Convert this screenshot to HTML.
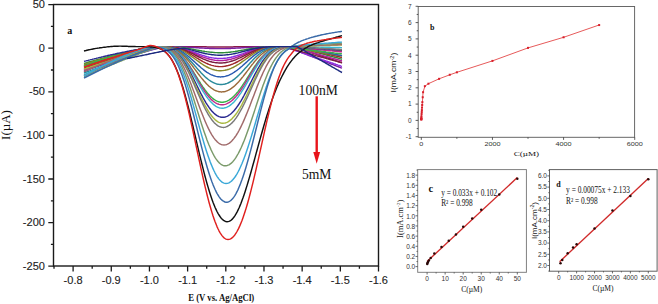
<!DOCTYPE html>
<html><head><meta charset="utf-8"><style>
html,body{margin:0;padding:0;background:#fff;width:658px;height:304px;overflow:hidden;}
svg{display:block;font-family:"Liberation Sans",sans-serif;}
</style></head><body>
<svg width="658" height="304" viewBox="0 0 658 304">
<rect width="658" height="304" fill="#fff"/>
<g fill="none" stroke-width="1.45" stroke-linejoin="round">
<path d="M84.0,66.0 L85.0,65.7 L86.0,65.4 L87.0,65.1 L88.0,64.8 L89.0,64.5 L90.0,64.2 L91.0,63.8 L92.0,63.5 L93.0,63.2 L94.0,62.9 L95.0,62.6 L96.0,62.3 L97.0,62.1 L98.0,61.8 L99.0,61.5 L100.0,61.2 L101.0,60.9 L102.0,60.6 L103.0,60.3 L104.0,60.0 L105.0,59.7 L106.0,59.4 L107.0,59.2 L108.0,58.9 L109.0,58.6 L110.0,58.3 L111.0,58.1 L112.0,57.8 L113.0,57.5 L114.0,57.2 L115.0,57.0 L116.0,56.7 L117.0,56.4 L118.0,56.2 L119.0,55.9 L120.0,55.6 L121.0,55.4 L122.0,55.1 L123.0,54.9 L124.0,54.6 L125.0,54.4 L126.0,54.1 L127.0,53.9 L128.0,53.6 L129.0,53.4 L130.0,53.1 L131.0,52.9 L132.0,52.6 L133.0,52.4 L134.0,52.2 L135.0,51.9 L136.0,51.7 L137.0,51.5 L138.0,51.2 L139.0,51.0 L140.0,50.8 L141.0,50.6 L142.0,50.4 L143.0,50.2 L144.0,50.0 L145.0,49.7 L146.0,49.5 L147.0,49.3 L148.0,49.1 L149.0,49.0 L150.0,48.8 L151.0,48.6 L152.0,48.4 L153.0,48.2 L154.0,48.0 L155.0,47.9 L156.0,47.7 L157.0,47.6 L158.0,47.4 L159.0,47.3 L160.0,47.1 L161.0,47.0 L162.0,46.9 L163.0,46.8 L164.0,46.7 L165.0,46.6 L166.0,46.6 L167.0,46.6 L168.0,46.6 L169.0,46.6 L170.0,46.6 L171.0,46.6 L172.0,46.6 L173.0,46.6 L174.0,46.6 L175.0,46.6 L176.0,46.6 L177.0,46.6 L178.0,46.6 L179.0,46.6 L180.0,46.6 L181.0,46.6 L182.0,46.6 L183.0,46.7 L184.0,46.7 L185.0,46.7 L186.0,46.7 L187.0,46.7 L188.0,46.7 L189.0,46.7 L190.0,46.7 L191.0,46.7 L192.0,46.7 L193.0,46.7 L194.0,46.7 L195.0,46.7 L196.0,46.8 L197.0,46.8 L198.0,46.8 L199.0,46.8 L200.0,46.8 L201.0,46.8 L202.0,46.8 L203.0,46.8 L204.0,46.8 L205.0,46.8 L206.0,46.8 L207.0,46.9 L208.0,46.9 L209.0,46.9 L210.0,46.9 L211.0,46.9 L212.0,46.9 L213.0,46.9 L214.0,46.9 L215.0,46.9 L216.0,46.9 L217.0,46.9 L218.0,46.9 L219.0,46.9 L220.0,46.9 L221.0,46.9 L222.0,46.9 L223.0,46.9 L224.0,46.9 L225.0,46.9 L226.0,46.9 L227.0,46.9 L228.0,46.9 L229.0,46.9 L230.0,46.9 L231.0,46.9 L232.0,46.9 L233.0,46.9 L234.0,46.8 L235.0,46.8 L236.0,46.8 L237.0,46.8 L238.0,46.8 L239.0,46.8 L240.0,46.8 L241.0,46.8 L242.0,46.8 L243.0,46.8 L244.0,46.8 L245.0,46.7 L246.0,46.7 L247.0,46.7 L248.0,46.7 L249.0,46.7 L250.0,46.7 L251.0,46.7 L252.0,46.7 L253.0,46.7 L254.0,46.7 L255.0,46.7 L256.0,46.7 L257.0,46.7 L258.0,46.6 L259.0,46.6 L260.0,46.6 L261.0,46.6 L262.0,46.6 L263.0,46.6 L264.0,46.6 L265.0,46.6 L266.0,46.6 L267.0,46.6 L268.0,46.6 L269.0,46.6 L270.0,46.6 L271.0,46.6 L272.0,46.6 L273.0,46.6 L274.0,46.6 L275.0,46.6 L276.0,46.6 L277.0,46.6 L278.0,46.6 L279.0,46.6 L280.0,46.6 L281.0,46.6 L282.0,46.6 L283.0,46.6 L284.0,46.6 L285.0,46.6 L286.0,46.6 L287.0,46.6 L288.0,46.6 L289.0,46.6 L290.0,46.6 L291.0,46.6 L292.0,46.6 L293.0,46.6 L294.0,46.9 L295.0,47.3 L296.0,47.6 L297.0,47.9 L298.0,48.2 L299.0,48.6 L300.0,48.9 L301.0,49.2 L302.0,49.6 L303.0,49.9 L304.0,50.2 L305.0,50.6 L306.0,50.9 L307.0,51.2 L308.0,51.5 L309.0,51.9 L310.0,52.2 L311.0,52.5 L312.0,52.9 L313.0,53.2 L314.0,53.5 L315.0,53.8 L316.0,54.2 L317.0,54.5 L318.0,54.8 L319.0,55.2 L320.0,55.5 L321.0,55.8 L322.0,56.2 L323.0,56.5 L324.0,56.8 L325.0,57.1 L326.0,57.5 L327.0,57.8 L328.0,58.1 L329.0,58.5 L330.0,58.8 L331.0,59.1 L332.0,59.4 L333.0,59.8 L334.0,60.1 L335.0,60.4 L336.0,60.8 L337.0,61.1 L338.0,61.4 L339.0,61.7 L340.0,62.1 L341.0,62.4 L342.0,62.7" stroke="#8b1a4a"/>
<path d="M84.0,69.0 L85.0,68.7 L86.0,68.4 L87.0,68.0 L88.0,67.7 L89.0,67.4 L90.0,67.1 L91.0,66.8 L92.0,66.5 L93.0,66.1 L94.0,65.8 L95.0,65.5 L96.0,65.2 L97.0,64.9 L98.0,64.6 L99.0,64.3 L100.0,63.9 L101.0,63.6 L102.0,63.3 L103.0,63.0 L104.0,62.7 L105.0,62.4 L106.0,62.1 L107.0,61.7 L108.0,61.4 L109.0,61.1 L110.0,60.8 L111.0,60.5 L112.0,60.2 L113.0,59.9 L114.0,59.6 L115.0,59.3 L116.0,59.0 L117.0,58.6 L118.0,58.3 L119.0,58.0 L120.0,57.7 L121.0,57.4 L122.0,57.1 L123.0,56.8 L124.0,56.5 L125.0,56.2 L126.0,55.9 L127.0,55.6 L128.0,55.3 L129.0,55.0 L130.0,54.7 L131.0,54.4 L132.0,54.1 L133.0,53.8 L134.0,53.5 L135.0,53.2 L136.0,52.9 L137.0,52.6 L138.0,52.3 L139.0,52.0 L140.0,51.7 L141.0,51.4 L142.0,51.1 L143.0,50.8 L144.0,50.5 L145.0,50.2 L146.0,49.9 L147.0,49.6 L148.0,49.3 L149.0,49.0 L150.0,48.8 L151.0,48.5 L152.0,48.2 L153.0,47.9 L154.0,47.6 L155.0,47.4 L156.0,47.1 L157.0,46.8 L158.0,46.6 L159.0,46.6 L160.0,46.6 L161.0,46.6 L162.0,46.6 L163.0,46.6 L164.0,46.6 L165.0,46.6 L166.0,46.6 L167.0,46.6 L168.0,46.6 L169.0,46.6 L170.0,46.6 L171.0,46.6 L172.0,46.7 L173.0,46.7 L174.0,46.7 L175.0,46.7 L176.0,46.7 L177.0,46.7 L178.0,46.8 L179.0,46.8 L180.0,46.8 L181.0,46.9 L182.0,46.9 L183.0,46.9 L184.0,47.0 L185.0,47.0 L186.0,47.1 L187.0,47.1 L188.0,47.2 L189.0,47.2 L190.0,47.3 L191.0,47.4 L192.0,47.4 L193.0,47.5 L194.0,47.5 L195.0,47.6 L196.0,47.7 L197.0,47.7 L198.0,47.8 L199.0,47.9 L200.0,47.9 L201.0,48.0 L202.0,48.0 L203.0,48.1 L204.0,48.1 L205.0,48.2 L206.0,48.2 L207.0,48.3 L208.0,48.3 L209.0,48.4 L210.0,48.4 L211.0,48.4 L212.0,48.5 L213.0,48.5 L214.0,48.5 L215.0,48.6 L216.0,48.6 L217.0,48.6 L218.0,48.6 L219.0,48.6 L220.0,48.6 L221.0,48.6 L222.0,48.6 L223.0,48.6 L224.0,48.6 L225.0,48.6 L226.0,48.5 L227.0,48.5 L228.0,48.5 L229.0,48.5 L230.0,48.4 L231.0,48.4 L232.0,48.3 L233.0,48.3 L234.0,48.2 L235.0,48.2 L236.0,48.1 L237.0,48.1 L238.0,48.0 L239.0,48.0 L240.0,47.9 L241.0,47.9 L242.0,47.8 L243.0,47.7 L244.0,47.7 L245.0,47.6 L246.0,47.5 L247.0,47.5 L248.0,47.4 L249.0,47.4 L250.0,47.3 L251.0,47.2 L252.0,47.2 L253.0,47.1 L254.0,47.1 L255.0,47.0 L256.0,47.0 L257.0,46.9 L258.0,46.9 L259.0,46.9 L260.0,46.8 L261.0,46.8 L262.0,46.8 L263.0,46.7 L264.0,46.7 L265.0,46.7 L266.0,46.7 L267.0,46.7 L268.0,46.7 L269.0,46.6 L270.0,46.6 L271.0,46.6 L272.0,46.6 L273.0,46.6 L274.0,46.6 L275.0,46.6 L276.0,46.6 L277.0,46.6 L278.0,46.6 L279.0,46.6 L280.0,46.6 L281.0,46.6 L282.0,46.6 L283.0,46.6 L284.0,46.6 L285.0,46.6 L286.0,46.6 L287.0,47.0 L288.0,47.4 L289.0,47.8 L290.0,48.1 L291.0,48.5 L292.0,48.9 L293.0,49.3 L294.0,49.7 L295.0,50.1 L296.0,50.5 L297.0,50.8 L298.0,51.2 L299.0,51.6 L300.0,52.0 L301.0,52.4 L302.0,52.8 L303.0,53.2 L304.0,53.5 L305.0,53.9 L306.0,54.3 L307.0,54.7 L308.0,55.1 L309.0,55.5 L310.0,55.9 L311.0,56.2 L312.0,56.6 L313.0,57.0 L314.0,57.4 L315.0,57.8 L316.0,58.2 L317.0,58.6 L318.0,58.9 L319.0,59.3 L320.0,59.7 L321.0,60.1 L322.0,60.5 L323.0,60.9 L324.0,61.3 L325.0,61.6 L326.0,62.0 L327.0,62.4 L328.0,62.8 L329.0,63.2 L330.0,63.6 L331.0,64.0 L332.0,64.3 L333.0,64.7 L334.0,65.1 L335.0,65.5 L336.0,65.9 L337.0,66.3 L338.0,66.6 L339.0,67.0 L340.0,67.4 L341.0,67.8 L342.0,68.2" stroke="#7a1fa2"/>
<path d="M84.0,63.5 L85.0,63.2 L86.0,62.9 L87.0,62.6 L88.0,62.3 L89.0,62.0 L90.0,61.7 L91.0,61.5 L92.0,61.2 L93.0,60.9 L94.0,60.6 L95.0,60.3 L96.0,60.1 L97.0,59.8 L98.0,59.5 L99.0,59.2 L100.0,59.0 L101.0,58.7 L102.0,58.4 L103.0,58.1 L104.0,57.9 L105.0,57.6 L106.0,57.4 L107.0,57.1 L108.0,56.8 L109.0,56.6 L110.0,56.3 L111.0,56.1 L112.0,55.8 L113.0,55.6 L114.0,55.3 L115.0,55.1 L116.0,54.8 L117.0,54.6 L118.0,54.4 L119.0,54.1 L120.0,53.9 L121.0,53.7 L122.0,53.4 L123.0,53.2 L124.0,53.0 L125.0,52.8 L126.0,52.5 L127.0,52.3 L128.0,52.1 L129.0,51.9 L130.0,51.7 L131.0,51.5 L132.0,51.3 L133.0,51.1 L134.0,50.9 L135.0,50.7 L136.0,50.5 L137.0,50.3 L138.0,50.1 L139.0,49.9 L140.0,49.7 L141.0,49.5 L142.0,49.3 L143.0,49.2 L144.0,49.0 L145.0,48.8 L146.0,48.7 L147.0,48.5 L148.0,48.4 L149.0,48.2 L150.0,48.0 L151.0,47.9 L152.0,47.8 L153.0,47.6 L154.0,47.5 L155.0,47.4 L156.0,47.3 L157.0,47.1 L158.0,47.0 L159.0,46.9 L160.0,46.8 L161.0,46.8 L162.0,46.7 L163.0,46.6 L164.0,46.6 L165.0,46.6 L166.0,46.6 L167.0,46.7 L168.0,46.7 L169.0,46.7 L170.0,46.7 L171.0,46.8 L172.0,46.8 L173.0,46.8 L174.0,46.9 L175.0,46.9 L176.0,47.0 L177.0,47.1 L178.0,47.1 L179.0,47.2 L180.0,47.3 L181.0,47.4 L182.0,47.5 L183.0,47.7 L184.0,47.8 L185.0,47.9 L186.0,48.1 L187.0,48.2 L188.0,48.4 L189.0,48.6 L190.0,48.7 L191.0,48.9 L192.0,49.1 L193.0,49.3 L194.0,49.5 L195.0,49.7 L196.0,49.9 L197.0,50.1 L198.0,50.2 L199.0,50.4 L200.0,50.6 L201.0,50.8 L202.0,51.0 L203.0,51.1 L204.0,51.3 L205.0,51.5 L206.0,51.6 L207.0,51.8 L208.0,51.9 L209.0,52.0 L210.0,52.1 L211.0,52.2 L212.0,52.3 L213.0,52.4 L214.0,52.5 L215.0,52.6 L216.0,52.6 L217.0,52.6 L218.0,52.7 L219.0,52.7 L220.0,52.7 L221.0,52.7 L222.0,52.7 L223.0,52.7 L224.0,52.6 L225.0,52.6 L226.0,52.5 L227.0,52.4 L228.0,52.4 L229.0,52.3 L230.0,52.2 L231.0,52.0 L232.0,51.9 L233.0,51.8 L234.0,51.6 L235.0,51.5 L236.0,51.3 L237.0,51.2 L238.0,51.0 L239.0,50.8 L240.0,50.7 L241.0,50.5 L242.0,50.3 L243.0,50.1 L244.0,49.9 L245.0,49.7 L246.0,49.5 L247.0,49.3 L248.0,49.2 L249.0,49.0 L250.0,48.8 L251.0,48.6 L252.0,48.4 L253.0,48.3 L254.0,48.1 L255.0,48.0 L256.0,47.8 L257.0,47.7 L258.0,47.6 L259.0,47.5 L260.0,47.3 L261.0,47.3 L262.0,47.2 L263.0,47.1 L264.0,47.0 L265.0,46.9 L266.0,46.9 L267.0,46.8 L268.0,46.8 L269.0,46.8 L270.0,46.7 L271.0,46.7 L272.0,46.7 L273.0,46.7 L274.0,46.7 L275.0,46.6 L276.0,46.6 L277.0,46.6 L278.0,46.6 L279.0,46.6 L280.0,46.6 L281.0,46.6 L282.0,46.6 L283.0,46.6 L284.0,46.6 L285.0,46.6 L286.0,46.6 L287.0,46.6 L288.0,46.6 L289.0,46.6 L290.0,46.6 L291.0,46.6 L292.0,46.6 L293.0,46.6 L294.0,46.6 L295.0,46.6 L296.0,46.9 L297.0,47.1 L298.0,47.4 L299.0,47.7 L300.0,47.9 L301.0,48.2 L302.0,48.5 L303.0,48.7 L304.0,49.0 L305.0,49.3 L306.0,49.5 L307.0,49.8 L308.0,50.1 L309.0,50.3 L310.0,50.6 L311.0,50.9 L312.0,51.2 L313.0,51.4 L314.0,51.7 L315.0,52.0 L316.0,52.2 L317.0,52.5 L318.0,52.8 L319.0,53.0 L320.0,53.3 L321.0,53.6 L322.0,53.8 L323.0,54.1 L324.0,54.4 L325.0,54.6 L326.0,54.9 L327.0,55.2 L328.0,55.4 L329.0,55.7 L330.0,56.0 L331.0,56.2 L332.0,56.5 L333.0,56.8 L334.0,57.0 L335.0,57.3 L336.0,57.6 L337.0,57.8 L338.0,58.1 L339.0,58.4 L340.0,58.7 L341.0,58.9 L342.0,59.2" stroke="#2e8b3a"/>
<path d="M84.0,70.0 L85.0,69.7 L86.0,69.4 L87.0,69.1 L88.0,68.7 L89.0,68.4 L90.0,68.1 L91.0,67.8 L92.0,67.5 L93.0,67.2 L94.0,66.9 L95.0,66.6 L96.0,66.2 L97.0,65.9 L98.0,65.6 L99.0,65.3 L100.0,65.0 L101.0,64.7 L102.0,64.4 L103.0,64.1 L104.0,63.8 L105.0,63.5 L106.0,63.2 L107.0,62.9 L108.0,62.6 L109.0,62.3 L110.0,61.9 L111.0,61.6 L112.0,61.3 L113.0,61.0 L114.0,60.7 L115.0,60.4 L116.0,60.1 L117.0,59.8 L118.0,59.5 L119.0,59.2 L120.0,58.9 L121.0,58.6 L122.0,58.3 L123.0,58.1 L124.0,57.8 L125.0,57.5 L126.0,57.2 L127.0,56.9 L128.0,56.6 L129.0,56.3 L130.0,56.0 L131.0,55.7 L132.0,55.4 L133.0,55.1 L134.0,54.8 L135.0,54.6 L136.0,54.3 L137.0,54.0 L138.0,53.7 L139.0,53.4 L140.0,53.1 L141.0,52.9 L142.0,52.6 L143.0,52.3 L144.0,52.0 L145.0,51.8 L146.0,51.5 L147.0,51.2 L148.0,50.9 L149.0,50.7 L150.0,50.4 L151.0,50.1 L152.0,49.9 L153.0,49.6 L154.0,49.3 L155.0,49.1 L156.0,48.8 L157.0,48.6 L158.0,48.3 L159.0,48.1 L160.0,47.9 L161.0,47.6 L162.0,47.4 L163.0,47.2 L164.0,47.0 L165.0,46.8 L166.0,46.7 L167.0,46.7 L168.0,46.8 L169.0,46.8 L170.0,46.9 L171.0,46.9 L172.0,47.0 L173.0,47.1 L174.0,47.2 L175.0,47.3 L176.0,47.4 L177.0,47.5 L178.0,47.7 L179.0,47.9 L180.0,48.0 L181.0,48.3 L182.0,48.5 L183.0,48.7 L184.0,49.0 L185.0,49.2 L186.0,49.5 L187.0,49.8 L188.0,50.2 L189.0,50.5 L190.0,50.8 L191.0,51.2 L192.0,51.5 L193.0,51.9 L194.0,52.3 L195.0,52.6 L196.0,53.0 L197.0,53.4 L198.0,53.7 L199.0,54.1 L200.0,54.5 L201.0,54.8 L202.0,55.2 L203.0,55.5 L204.0,55.8 L205.0,56.1 L206.0,56.4 L207.0,56.7 L208.0,56.9 L209.0,57.2 L210.0,57.4 L211.0,57.6 L212.0,57.8 L213.0,57.9 L214.0,58.1 L215.0,58.2 L216.0,58.3 L217.0,58.4 L218.0,58.4 L219.0,58.5 L220.0,58.5 L221.0,58.5 L222.0,58.5 L223.0,58.4 L224.0,58.3 L225.0,58.3 L226.0,58.1 L227.0,58.0 L228.0,57.8 L229.0,57.7 L230.0,57.5 L231.0,57.3 L232.0,57.0 L233.0,56.8 L234.0,56.5 L235.0,56.2 L236.0,55.9 L237.0,55.6 L238.0,55.3 L239.0,55.0 L240.0,54.6 L241.0,54.3 L242.0,53.9 L243.0,53.6 L244.0,53.2 L245.0,52.8 L246.0,52.4 L247.0,52.1 L248.0,51.7 L249.0,51.4 L250.0,51.0 L251.0,50.7 L252.0,50.3 L253.0,50.0 L254.0,49.7 L255.0,49.4 L256.0,49.1 L257.0,48.9 L258.0,48.6 L259.0,48.4 L260.0,48.2 L261.0,48.0 L262.0,47.8 L263.0,47.6 L264.0,47.5 L265.0,47.3 L266.0,47.2 L267.0,47.1 L268.0,47.0 L269.0,47.0 L270.0,46.9 L271.0,46.8 L272.0,46.8 L273.0,46.8 L274.0,46.7 L275.0,46.7 L276.0,46.7 L277.0,46.7 L278.0,46.6 L279.0,46.6 L280.0,46.6 L281.0,46.6 L282.0,46.6 L283.0,46.6 L284.0,46.6 L285.0,46.9 L286.0,47.3 L287.0,47.6 L288.0,48.0 L289.0,48.3 L290.0,48.7 L291.0,49.0 L292.0,49.3 L293.0,49.7 L294.0,50.0 L295.0,50.4 L296.0,50.7 L297.0,51.0 L298.0,51.4 L299.0,51.7 L300.0,52.1 L301.0,52.4 L302.0,52.8 L303.0,53.1 L304.0,53.4 L305.0,53.8 L306.0,54.1 L307.0,54.5 L308.0,54.8 L309.0,55.1 L310.0,55.5 L311.0,55.8 L312.0,56.2 L313.0,56.5 L314.0,56.9 L315.0,57.2 L316.0,57.5 L317.0,57.9 L318.0,58.2 L319.0,58.6 L320.0,58.9 L321.0,59.2 L322.0,59.6 L323.0,59.9 L324.0,60.3 L325.0,60.6 L326.0,61.0 L327.0,61.3 L328.0,61.6 L329.0,62.0 L330.0,62.3 L331.0,62.7 L332.0,63.0 L333.0,63.3 L334.0,63.7 L335.0,64.0 L336.0,64.4 L337.0,64.7 L338.0,65.1 L339.0,65.4 L340.0,65.7 L341.0,66.1 L342.0,66.4" stroke="#8a2be2"/>
<path d="M84.0,72.0 L85.0,71.5 L86.0,71.1 L87.0,70.6 L88.0,70.1 L89.0,69.7 L90.0,69.2 L91.0,68.7 L92.0,68.3 L93.0,67.8 L94.0,67.4 L95.0,66.9 L96.0,66.5 L97.0,66.1 L98.0,65.6 L99.0,65.2 L100.0,64.7 L101.0,64.3 L102.0,63.9 L103.0,63.5 L104.0,63.0 L105.0,62.6 L106.0,62.2 L107.0,61.8 L108.0,61.4 L109.0,61.0 L110.0,60.6 L111.0,60.2 L112.0,59.8 L113.0,59.4 L114.0,59.0 L115.0,58.6 L116.0,58.2 L117.0,57.8 L118.0,57.4 L119.0,57.0 L120.0,56.7 L121.0,56.3 L122.0,55.9 L123.0,55.6 L124.0,55.2 L125.0,54.9 L126.0,54.5 L127.0,54.2 L128.0,53.8 L129.0,53.5 L130.0,53.1 L131.0,52.8 L132.0,52.5 L133.0,52.2 L134.0,51.8 L135.0,51.5 L136.0,51.2 L137.0,50.9 L138.0,50.6 L139.0,50.3 L140.0,50.1 L141.0,49.8 L142.0,49.5 L143.0,49.2 L144.0,49.0 L145.0,48.7 L146.0,48.5 L147.0,48.2 L148.0,48.0 L149.0,47.8 L150.0,47.6 L151.0,47.4 L152.0,47.2 L153.0,47.0 L154.0,46.9 L155.0,46.7 L156.0,46.6 L157.0,46.6 L158.0,46.6 L159.0,46.6 L160.0,46.6 L161.0,46.6 L162.0,46.6 L163.0,46.7 L164.0,46.7 L165.0,46.7 L166.0,46.7 L167.0,46.8 L168.0,46.8 L169.0,46.9 L170.0,46.9 L171.0,47.0 L172.0,47.1 L173.0,47.2 L174.0,47.3 L175.0,47.4 L176.0,47.6 L177.0,47.7 L178.0,47.9 L179.0,48.1 L180.0,48.3 L181.0,48.6 L182.0,48.8 L183.0,49.1 L184.0,49.4 L185.0,49.7 L186.0,50.1 L187.0,50.4 L188.0,50.8 L189.0,51.2 L190.0,51.6 L191.0,52.0 L192.0,52.4 L193.0,52.8 L194.0,53.3 L195.0,53.7 L196.0,54.1 L197.0,54.6 L198.0,55.0 L199.0,55.4 L200.0,55.9 L201.0,56.3 L202.0,56.7 L203.0,57.1 L204.0,57.4 L205.0,57.8 L206.0,58.1 L207.0,58.4 L208.0,58.7 L209.0,59.0 L210.0,59.3 L211.0,59.5 L212.0,59.7 L213.0,59.9 L214.0,60.1 L215.0,60.3 L216.0,60.4 L217.0,60.5 L218.0,60.5 L219.0,60.6 L220.0,60.6 L221.0,60.6 L222.0,60.6 L223.0,60.5 L224.0,60.4 L225.0,60.3 L226.0,60.2 L227.0,60.0 L228.0,59.8 L229.0,59.6 L230.0,59.4 L231.0,59.2 L232.0,58.9 L233.0,58.6 L234.0,58.3 L235.0,58.0 L236.0,57.6 L237.0,57.3 L238.0,56.9 L239.0,56.5 L240.0,56.1 L241.0,55.7 L242.0,55.3 L243.0,54.8 L244.0,54.4 L245.0,54.0 L246.0,53.5 L247.0,53.1 L248.0,52.7 L249.0,52.3 L250.0,51.8 L251.0,51.4 L252.0,51.0 L253.0,50.7 L254.0,50.3 L255.0,50.0 L256.0,49.6 L257.0,49.3 L258.0,49.0 L259.0,48.7 L260.0,48.5 L261.0,48.3 L262.0,48.0 L263.0,47.8 L264.0,47.7 L265.0,47.5 L266.0,47.4 L267.0,47.2 L268.0,47.1 L269.0,47.0 L270.0,47.0 L271.0,46.9 L272.0,46.8 L273.0,46.8 L274.0,46.8 L275.0,46.7 L276.0,46.7 L277.0,46.7 L278.0,46.7 L279.0,46.6 L280.0,46.6 L281.0,46.6 L282.0,46.6 L283.0,46.6 L284.0,46.6 L285.0,46.6 L286.0,46.6 L287.0,46.6 L288.0,46.6 L289.0,46.6 L290.0,46.6 L291.0,46.6 L292.0,46.9 L293.0,47.2 L294.0,47.4 L295.0,47.7 L296.0,48.0 L297.0,48.3 L298.0,48.6 L299.0,48.9 L300.0,49.1 L301.0,49.4 L302.0,49.7 L303.0,50.0 L304.0,50.3 L305.0,50.5 L306.0,50.8 L307.0,51.1 L308.0,51.4 L309.0,51.7 L310.0,52.0 L311.0,52.2 L312.0,52.5 L313.0,52.8 L314.0,53.1 L315.0,53.4 L316.0,53.6 L317.0,53.9 L318.0,54.2 L319.0,54.5 L320.0,54.8 L321.0,55.1 L322.0,55.3 L323.0,55.6 L324.0,55.9 L325.0,56.2 L326.0,56.5 L327.0,56.7 L328.0,57.0 L329.0,57.3 L330.0,57.6 L331.0,57.9 L332.0,58.2 L333.0,58.4 L334.0,58.7 L335.0,59.0 L336.0,59.3 L337.0,59.6 L338.0,59.8 L339.0,60.1 L340.0,60.4 L341.0,60.7 L342.0,61.0" stroke="#b0209a"/>
<path d="M84.0,65.0 L85.0,64.8 L86.0,64.5 L87.0,64.3 L88.0,64.1 L89.0,63.8 L90.0,63.6 L91.0,63.3 L92.0,63.1 L93.0,62.9 L94.0,62.6 L95.0,62.4 L96.0,62.2 L97.0,61.9 L98.0,61.7 L99.0,61.4 L100.0,61.2 L101.0,61.0 L102.0,60.7 L103.0,60.5 L104.0,60.3 L105.0,60.0 L106.0,59.8 L107.0,59.5 L108.0,59.3 L109.0,59.1 L110.0,58.8 L111.0,58.6 L112.0,58.4 L113.0,58.1 L114.0,57.9 L115.0,57.6 L116.0,57.4 L117.0,57.2 L118.0,56.9 L119.0,56.7 L120.0,56.5 L121.0,56.2 L122.0,56.0 L123.0,55.7 L124.0,55.5 L125.0,55.3 L126.0,55.0 L127.0,54.8 L128.0,54.6 L129.0,54.3 L130.0,54.1 L131.0,53.8 L132.0,53.6 L133.0,53.4 L134.0,53.1 L135.0,52.9 L136.0,52.7 L137.0,52.4 L138.0,52.2 L139.0,51.9 L140.0,51.7 L141.0,51.5 L142.0,51.2 L143.0,51.0 L144.0,50.8 L145.0,50.5 L146.0,50.3 L147.0,50.0 L148.0,49.8 L149.0,49.6 L150.0,49.3 L151.0,49.1 L152.0,48.9 L153.0,48.6 L154.0,48.4 L155.0,48.1 L156.0,47.9 L157.0,47.7 L158.0,47.4 L159.0,47.2 L160.0,47.0 L161.0,46.8 L162.0,46.7 L163.0,46.7 L164.0,46.7 L165.0,46.7 L166.0,46.8 L167.0,46.8 L168.0,46.8 L169.0,46.9 L170.0,47.0 L171.0,47.1 L172.0,47.2 L173.0,47.3 L174.0,47.4 L175.0,47.6 L176.0,47.7 L177.0,47.9 L178.0,48.1 L179.0,48.4 L180.0,48.6 L181.0,48.9 L182.0,49.2 L183.0,49.6 L184.0,49.9 L185.0,50.3 L186.0,50.7 L187.0,51.1 L188.0,51.6 L189.0,52.0 L190.0,52.5 L191.0,53.0 L192.0,53.4 L193.0,53.9 L194.0,54.4 L195.0,55.0 L196.0,55.5 L197.0,56.0 L198.0,56.5 L199.0,57.0 L200.0,57.5 L201.0,57.9 L202.0,58.4 L203.0,58.9 L204.0,59.3 L205.0,59.7 L206.0,60.1 L207.0,60.5 L208.0,60.8 L209.0,61.2 L210.0,61.5 L211.0,61.7 L212.0,62.0 L213.0,62.2 L214.0,62.4 L215.0,62.6 L216.0,62.7 L217.0,62.8 L218.0,62.9 L219.0,63.0 L220.0,63.0 L221.0,63.0 L222.0,63.0 L223.0,62.9 L224.0,62.8 L225.0,62.7 L226.0,62.5 L227.0,62.3 L228.0,62.1 L229.0,61.9 L230.0,61.6 L231.0,61.3 L232.0,61.0 L233.0,60.7 L234.0,60.3 L235.0,60.0 L236.0,59.6 L237.0,59.1 L238.0,58.7 L239.0,58.2 L240.0,57.8 L241.0,57.3 L242.0,56.8 L243.0,56.3 L244.0,55.8 L245.0,55.3 L246.0,54.8 L247.0,54.3 L248.0,53.8 L249.0,53.3 L250.0,52.8 L251.0,52.4 L252.0,51.9 L253.0,51.4 L254.0,51.0 L255.0,50.6 L256.0,50.2 L257.0,49.8 L258.0,49.5 L259.0,49.2 L260.0,48.9 L261.0,48.6 L262.0,48.3 L263.0,48.1 L264.0,47.9 L265.0,47.7 L266.0,47.5 L267.0,47.4 L268.0,47.3 L269.0,47.1 L270.0,47.0 L271.0,47.0 L272.0,46.9 L273.0,46.8 L274.0,46.8 L275.0,46.7 L276.0,46.7 L277.0,46.7 L278.0,46.7 L279.0,46.7 L280.0,46.6 L281.0,46.6 L282.0,46.6 L283.0,46.6 L284.0,46.9 L285.0,47.2 L286.0,47.4 L287.0,47.7 L288.0,48.0 L289.0,48.2 L290.0,48.5 L291.0,48.8 L292.0,49.1 L293.0,49.3 L294.0,49.6 L295.0,49.9 L296.0,50.2 L297.0,50.4 L298.0,50.7 L299.0,51.0 L300.0,51.3 L301.0,51.5 L302.0,51.8 L303.0,52.1 L304.0,52.4 L305.0,52.6 L306.0,52.9 L307.0,53.2 L308.0,53.5 L309.0,53.7 L310.0,54.0 L311.0,54.3 L312.0,54.6 L313.0,54.8 L314.0,55.1 L315.0,55.4 L316.0,55.7 L317.0,55.9 L318.0,56.2 L319.0,56.5 L320.0,56.7 L321.0,57.0 L322.0,57.3 L323.0,57.6 L324.0,57.8 L325.0,58.1 L326.0,58.4 L327.0,58.7 L328.0,58.9 L329.0,59.2 L330.0,59.5 L331.0,59.8 L332.0,60.0 L333.0,60.3 L334.0,60.6 L335.0,60.9 L336.0,61.1 L337.0,61.4 L338.0,61.7 L339.0,62.0 L340.0,62.2 L341.0,62.5 L342.0,62.8" stroke="#7a2040"/>
<path d="M84.0,68.0 L85.0,67.7 L86.0,67.3 L87.0,67.0 L88.0,66.7 L89.0,66.3 L90.0,66.0 L91.0,65.7 L92.0,65.4 L93.0,65.0 L94.0,64.7 L95.0,64.4 L96.0,64.1 L97.0,63.8 L98.0,63.4 L99.0,63.1 L100.0,62.8 L101.0,62.5 L102.0,62.2 L103.0,61.9 L104.0,61.6 L105.0,61.3 L106.0,60.9 L107.0,60.6 L108.0,60.3 L109.0,60.0 L110.0,59.7 L111.0,59.4 L112.0,59.1 L113.0,58.8 L114.0,58.5 L115.0,58.2 L116.0,57.9 L117.0,57.7 L118.0,57.4 L119.0,57.1 L120.0,56.8 L121.0,56.5 L122.0,56.2 L123.0,55.9 L124.0,55.7 L125.0,55.4 L126.0,55.1 L127.0,54.8 L128.0,54.5 L129.0,54.3 L130.0,54.0 L131.0,53.7 L132.0,53.5 L133.0,53.2 L134.0,52.9 L135.0,52.7 L136.0,52.4 L137.0,52.2 L138.0,51.9 L139.0,51.7 L140.0,51.4 L141.0,51.2 L142.0,50.9 L143.0,50.7 L144.0,50.4 L145.0,50.2 L146.0,50.0 L147.0,49.8 L148.0,49.5 L149.0,49.3 L150.0,49.1 L151.0,48.9 L152.0,48.7 L153.0,48.5 L154.0,48.3 L155.0,48.1 L156.0,47.9 L157.0,47.7 L158.0,47.5 L159.0,47.4 L160.0,47.2 L161.0,47.1 L162.0,46.9 L163.0,46.8 L164.0,46.7 L165.0,46.8 L166.0,46.8 L167.0,46.8 L168.0,46.9 L169.0,47.0 L170.0,47.1 L171.0,47.2 L172.0,47.3 L173.0,47.5 L174.0,47.6 L175.0,47.8 L176.0,48.0 L177.0,48.3 L178.0,48.5 L179.0,48.8 L180.0,49.1 L181.0,49.5 L182.0,49.9 L183.0,50.3 L184.0,50.7 L185.0,51.2 L186.0,51.7 L187.0,52.2 L188.0,52.7 L189.0,53.3 L190.0,53.8 L191.0,54.4 L192.0,55.0 L193.0,55.6 L194.0,56.2 L195.0,56.8 L196.0,57.5 L197.0,58.1 L198.0,58.7 L199.0,59.3 L200.0,59.9 L201.0,60.5 L202.0,61.0 L203.0,61.6 L204.0,62.1 L205.0,62.6 L206.0,63.1 L207.0,63.5 L208.0,64.0 L209.0,64.4 L210.0,64.7 L211.0,65.1 L212.0,65.4 L213.0,65.6 L214.0,65.9 L215.0,66.1 L216.0,66.3 L217.0,66.4 L218.0,66.5 L219.0,66.6 L220.0,66.6 L221.0,66.6 L222.0,66.6 L223.0,66.5 L224.0,66.4 L225.0,66.2 L226.0,66.0 L227.0,65.8 L228.0,65.6 L229.0,65.3 L230.0,65.0 L231.0,64.6 L232.0,64.3 L233.0,63.9 L234.0,63.4 L235.0,63.0 L236.0,62.5 L237.0,62.0 L238.0,61.5 L239.0,60.9 L240.0,60.3 L241.0,59.8 L242.0,59.2 L243.0,58.6 L244.0,58.0 L245.0,57.4 L246.0,56.7 L247.0,56.1 L248.0,55.5 L249.0,54.9 L250.0,54.3 L251.0,53.8 L252.0,53.2 L253.0,52.7 L254.0,52.1 L255.0,51.6 L256.0,51.1 L257.0,50.7 L258.0,50.3 L259.0,49.9 L260.0,49.5 L261.0,49.1 L262.0,48.8 L263.0,48.5 L264.0,48.3 L265.0,48.0 L266.0,47.8 L267.0,47.6 L268.0,47.5 L269.0,47.3 L270.0,47.2 L271.0,47.1 L272.0,47.0 L273.0,46.9 L274.0,46.9 L275.0,46.8 L276.0,46.8 L277.0,46.7 L278.0,46.7 L279.0,46.7 L280.0,46.7 L281.0,46.6 L282.0,46.6 L283.0,46.6 L284.0,46.6 L285.0,46.6 L286.0,46.6 L287.0,46.6 L288.0,46.6 L289.0,46.6 L290.0,46.6 L291.0,46.6 L292.0,46.6 L293.0,46.6 L294.0,46.6 L295.0,46.8 L296.0,47.1 L297.0,47.3 L298.0,47.5 L299.0,47.7 L300.0,48.0 L301.0,48.2 L302.0,48.4 L303.0,48.6 L304.0,48.9 L305.0,49.1 L306.0,49.3 L307.0,49.5 L308.0,49.8 L309.0,50.0 L310.0,50.2 L311.0,50.4 L312.0,50.7 L313.0,50.9 L314.0,51.1 L315.0,51.3 L316.0,51.6 L317.0,51.8 L318.0,52.0 L319.0,52.2 L320.0,52.5 L321.0,52.7 L322.0,52.9 L323.0,53.1 L324.0,53.4 L325.0,53.6 L326.0,53.8 L327.0,54.0 L328.0,54.3 L329.0,54.5 L330.0,54.7 L331.0,54.9 L332.0,55.2 L333.0,55.4 L334.0,55.6 L335.0,55.8 L336.0,56.1 L337.0,56.3 L338.0,56.5 L339.0,56.7 L340.0,57.0 L341.0,57.2 L342.0,57.4" stroke="#a0282a"/>
<path d="M84.0,64.5 L85.0,64.2 L86.0,63.9 L87.0,63.5 L88.0,63.2 L89.0,62.9 L90.0,62.6 L91.0,62.3 L92.0,61.9 L93.0,61.6 L94.0,61.3 L95.0,61.0 L96.0,60.7 L97.0,60.4 L98.0,60.1 L99.0,59.8 L100.0,59.5 L101.0,59.2 L102.0,58.9 L103.0,58.6 L104.0,58.3 L105.0,58.0 L106.0,57.7 L107.0,57.5 L108.0,57.2 L109.0,56.9 L110.0,56.6 L111.0,56.3 L112.0,56.0 L113.0,55.8 L114.0,55.5 L115.0,55.2 L116.0,55.0 L117.0,54.7 L118.0,54.4 L119.0,54.2 L120.0,53.9 L121.0,53.7 L122.0,53.4 L123.0,53.1 L124.0,52.9 L125.0,52.7 L126.0,52.4 L127.0,52.2 L128.0,51.9 L129.0,51.7 L130.0,51.5 L131.0,51.2 L132.0,51.0 L133.0,50.8 L134.0,50.6 L135.0,50.3 L136.0,50.1 L137.0,49.9 L138.0,49.7 L139.0,49.5 L140.0,49.3 L141.0,49.1 L142.0,48.9 L143.0,48.7 L144.0,48.5 L145.0,48.3 L146.0,48.2 L147.0,48.0 L148.0,47.8 L149.0,47.7 L150.0,47.5 L151.0,47.4 L152.0,47.2 L153.0,47.1 L154.0,47.0 L155.0,46.9 L156.0,46.8 L157.0,46.7 L158.0,46.6 L159.0,46.6 L160.0,46.6 L161.0,46.7 L162.0,46.7 L163.0,46.7 L164.0,46.8 L165.0,46.8 L166.0,46.8 L167.0,46.9 L168.0,47.0 L169.0,47.1 L170.0,47.2 L171.0,47.3 L172.0,47.5 L173.0,47.7 L174.0,47.9 L175.0,48.1 L176.0,48.4 L177.0,48.7 L178.0,49.0 L179.0,49.3 L180.0,49.7 L181.0,50.2 L182.0,50.6 L183.0,51.1 L184.0,51.6 L185.0,52.2 L186.0,52.8 L187.0,53.4 L188.0,54.0 L189.0,54.7 L190.0,55.4 L191.0,56.1 L192.0,56.8 L193.0,57.5 L194.0,58.3 L195.0,59.0 L196.0,59.7 L197.0,60.5 L198.0,61.2 L199.0,61.9 L200.0,62.6 L201.0,63.3 L202.0,64.0 L203.0,64.7 L204.0,65.3 L205.0,65.9 L206.0,66.5 L207.0,67.0 L208.0,67.5 L209.0,68.0 L210.0,68.4 L211.0,68.8 L212.0,69.2 L213.0,69.5 L214.0,69.8 L215.0,70.1 L216.0,70.3 L217.0,70.5 L218.0,70.6 L219.0,70.7 L220.0,70.7 L221.0,70.7 L222.0,70.6 L223.0,70.6 L224.0,70.4 L225.0,70.3 L226.0,70.0 L227.0,69.8 L228.0,69.5 L229.0,69.2 L230.0,68.8 L231.0,68.4 L232.0,67.9 L233.0,67.5 L234.0,67.0 L235.0,66.4 L236.0,65.8 L237.0,65.2 L238.0,64.6 L239.0,64.0 L240.0,63.3 L241.0,62.6 L242.0,61.9 L243.0,61.2 L244.0,60.5 L245.0,59.8 L246.0,59.0 L247.0,58.3 L248.0,57.6 L249.0,56.8 L250.0,56.1 L251.0,55.4 L252.0,54.8 L253.0,54.1 L254.0,53.5 L255.0,52.9 L256.0,52.3 L257.0,51.7 L258.0,51.2 L259.0,50.7 L260.0,50.2 L261.0,49.8 L262.0,49.4 L263.0,49.1 L264.0,48.7 L265.0,48.4 L266.0,48.2 L267.0,47.9 L268.0,47.7 L269.0,47.5 L270.0,47.4 L271.0,47.2 L272.0,47.1 L273.0,47.0 L274.0,46.9 L275.0,46.9 L276.0,46.8 L277.0,46.8 L278.0,46.7 L279.0,46.7 L280.0,46.7 L281.0,46.7 L282.0,46.6 L283.0,46.6 L284.0,46.6 L285.0,46.6 L286.0,46.6 L287.0,46.6 L288.0,46.8 L289.0,46.9 L290.0,47.1 L291.0,47.3 L292.0,47.4 L293.0,47.6 L294.0,47.8 L295.0,47.9 L296.0,48.1 L297.0,48.3 L298.0,48.5 L299.0,48.6 L300.0,48.8 L301.0,49.0 L302.0,49.1 L303.0,49.3 L304.0,49.5 L305.0,49.6 L306.0,49.8 L307.0,50.0 L308.0,50.1 L309.0,50.3 L310.0,50.5 L311.0,50.6 L312.0,50.8 L313.0,51.0 L314.0,51.1 L315.0,51.3 L316.0,51.5 L317.0,51.7 L318.0,51.8 L319.0,52.0 L320.0,52.2 L321.0,52.3 L322.0,52.5 L323.0,52.7 L324.0,52.8 L325.0,53.0 L326.0,53.2 L327.0,53.3 L328.0,53.5 L329.0,53.7 L330.0,53.8 L331.0,54.0 L332.0,54.2 L333.0,54.3 L334.0,54.5 L335.0,54.7 L336.0,54.9 L337.0,55.0 L338.0,55.2 L339.0,55.4 L340.0,55.5 L341.0,55.7 L342.0,55.9" stroke="#8a8a2a"/>
<path d="M84.0,71.0 L85.0,70.7 L86.0,70.3 L87.0,70.0 L88.0,69.6 L89.0,69.3 L90.0,68.9 L91.0,68.6 L92.0,68.3 L93.0,67.9 L94.0,67.6 L95.0,67.2 L96.0,66.9 L97.0,66.6 L98.0,66.2 L99.0,65.9 L100.0,65.5 L101.0,65.2 L102.0,64.9 L103.0,64.5 L104.0,64.2 L105.0,63.9 L106.0,63.6 L107.0,63.2 L108.0,62.9 L109.0,62.6 L110.0,62.2 L111.0,61.9 L112.0,61.6 L113.0,61.3 L114.0,60.9 L115.0,60.6 L116.0,60.3 L117.0,60.0 L118.0,59.7 L119.0,59.3 L120.0,59.0 L121.0,58.7 L122.0,58.4 L123.0,58.1 L124.0,57.8 L125.0,57.4 L126.0,57.1 L127.0,56.8 L128.0,56.5 L129.0,56.2 L130.0,55.9 L131.0,55.6 L132.0,55.3 L133.0,55.0 L134.0,54.7 L135.0,54.4 L136.0,54.1 L137.0,53.8 L138.0,53.5 L139.0,53.2 L140.0,52.9 L141.0,52.6 L142.0,52.3 L143.0,52.1 L144.0,51.8 L145.0,51.5 L146.0,51.2 L147.0,50.9 L148.0,50.7 L149.0,50.4 L150.0,50.1 L151.0,49.9 L152.0,49.6 L153.0,49.3 L154.0,49.1 L155.0,48.8 L156.0,48.6 L157.0,48.3 L158.0,48.1 L159.0,47.9 L160.0,47.7 L161.0,47.5 L162.0,47.3 L163.0,47.1 L164.0,47.0 L165.0,46.9 L166.0,46.9 L167.0,47.0 L168.0,47.1 L169.0,47.3 L170.0,47.4 L171.0,47.6 L172.0,47.8 L173.0,48.0 L174.0,48.3 L175.0,48.6 L176.0,48.9 L177.0,49.3 L178.0,49.7 L179.0,50.2 L180.0,50.7 L181.0,51.2 L182.0,51.8 L183.0,52.4 L184.0,53.1 L185.0,53.8 L186.0,54.5 L187.0,55.3 L188.0,56.1 L189.0,56.9 L190.0,57.8 L191.0,58.7 L192.0,59.6 L193.0,60.5 L194.0,61.4 L195.0,62.3 L196.0,63.2 L197.0,64.1 L198.0,65.0 L199.0,65.9 L200.0,66.8 L201.0,67.7 L202.0,68.5 L203.0,69.3 L204.0,70.1 L205.0,70.9 L206.0,71.6 L207.0,72.3 L208.0,72.9 L209.0,73.5 L210.0,74.1 L211.0,74.6 L212.0,75.0 L213.0,75.4 L214.0,75.8 L215.0,76.1 L216.0,76.4 L217.0,76.6 L218.0,76.7 L219.0,76.8 L220.0,76.9 L221.0,76.9 L222.0,76.8 L223.0,76.7 L224.0,76.6 L225.0,76.4 L226.0,76.1 L227.0,75.8 L228.0,75.5 L229.0,75.1 L230.0,74.6 L231.0,74.1 L232.0,73.6 L233.0,73.0 L234.0,72.4 L235.0,71.7 L236.0,71.0 L237.0,70.3 L238.0,69.5 L239.0,68.7 L240.0,67.9 L241.0,67.0 L242.0,66.2 L243.0,65.3 L244.0,64.4 L245.0,63.5 L246.0,62.6 L247.0,61.7 L248.0,60.8 L249.0,59.9 L250.0,59.0 L251.0,58.1 L252.0,57.2 L253.0,56.4 L254.0,55.6 L255.0,54.8 L256.0,54.1 L257.0,53.4 L258.0,52.7 L259.0,52.1 L260.0,51.5 L261.0,50.9 L262.0,50.4 L263.0,49.9 L264.0,49.5 L265.0,49.1 L266.0,48.8 L267.0,48.5 L268.0,48.2 L269.0,47.9 L270.0,47.7 L271.0,47.5 L272.0,47.4 L273.0,47.2 L274.0,47.1 L275.0,47.0 L276.0,46.9 L277.0,46.9 L278.0,46.8 L279.0,46.8 L280.0,46.7 L281.0,46.7 L282.0,46.7 L283.0,46.6 L284.0,46.6 L285.0,46.6 L286.0,46.6 L287.0,46.6 L288.0,46.6 L289.0,46.6 L290.0,46.6 L291.0,46.6 L292.0,46.6 L293.0,46.6 L294.0,46.6 L295.0,46.6 L296.0,46.6 L297.0,46.8 L298.0,47.0 L299.0,47.2 L300.0,47.4 L301.0,47.6 L302.0,47.8 L303.0,48.0 L304.0,48.2 L305.0,48.4 L306.0,48.6 L307.0,48.8 L308.0,49.0 L309.0,49.2 L310.0,49.4 L311.0,49.5 L312.0,49.7 L313.0,49.9 L314.0,50.1 L315.0,50.3 L316.0,50.5 L317.0,50.7 L318.0,50.9 L319.0,51.1 L320.0,51.3 L321.0,51.5 L322.0,51.7 L323.0,51.9 L324.0,52.1 L325.0,52.3 L326.0,52.5 L327.0,52.7 L328.0,52.9 L329.0,53.1 L330.0,53.3 L331.0,53.5 L332.0,53.7 L333.0,53.9 L334.0,54.1 L335.0,54.3 L336.0,54.5 L337.0,54.7 L338.0,54.9 L339.0,55.1 L340.0,55.2 L341.0,55.4 L342.0,55.6" stroke="#2a5ab0"/>
<path d="M84.0,73.0 L85.0,72.6 L86.0,72.3 L87.0,71.9 L88.0,71.5 L89.0,71.2 L90.0,70.8 L91.0,70.4 L92.0,70.1 L93.0,69.7 L94.0,69.4 L95.0,69.0 L96.0,68.6 L97.0,68.3 L98.0,67.9 L99.0,67.5 L100.0,67.2 L101.0,66.8 L102.0,66.5 L103.0,66.1 L104.0,65.7 L105.0,65.4 L106.0,65.0 L107.0,64.7 L108.0,64.3 L109.0,63.9 L110.0,63.6 L111.0,63.2 L112.0,62.9 L113.0,62.5 L114.0,62.2 L115.0,61.8 L116.0,61.4 L117.0,61.1 L118.0,60.7 L119.0,60.4 L120.0,60.0 L121.0,59.7 L122.0,59.3 L123.0,59.0 L124.0,58.6 L125.0,58.3 L126.0,57.9 L127.0,57.6 L128.0,57.2 L129.0,56.9 L130.0,56.5 L131.0,56.2 L132.0,55.8 L133.0,55.5 L134.0,55.1 L135.0,54.8 L136.0,54.4 L137.0,54.1 L138.0,53.7 L139.0,53.4 L140.0,53.1 L141.0,52.7 L142.0,52.4 L143.0,52.0 L144.0,51.7 L145.0,51.4 L146.0,51.0 L147.0,50.7 L148.0,50.4 L149.0,50.0 L150.0,49.7 L151.0,49.4 L152.0,49.0 L153.0,48.7 L154.0,48.4 L155.0,48.1 L156.0,47.8 L157.0,47.5 L158.0,47.2 L159.0,46.9 L160.0,46.7 L161.0,46.7 L162.0,46.8 L163.0,46.8 L164.0,46.9 L165.0,46.9 L166.0,47.0 L167.0,47.1 L168.0,47.3 L169.0,47.4 L170.0,47.6 L171.0,47.8 L172.0,48.1 L173.0,48.4 L174.0,48.7 L175.0,49.1 L176.0,49.5 L177.0,50.0 L178.0,50.5 L179.0,51.0 L180.0,51.7 L181.0,52.3 L182.0,53.0 L183.0,53.8 L184.0,54.6 L185.0,55.5 L186.0,56.4 L187.0,57.3 L188.0,58.3 L189.0,59.3 L190.0,60.4 L191.0,61.5 L192.0,62.6 L193.0,63.7 L194.0,64.8 L195.0,66.0 L196.0,67.1 L197.0,68.3 L198.0,69.4 L199.0,70.5 L200.0,71.6 L201.0,72.7 L202.0,73.7 L203.0,74.7 L204.0,75.7 L205.0,76.7 L206.0,77.6 L207.0,78.4 L208.0,79.2 L209.0,80.0 L210.0,80.7 L211.0,81.3 L212.0,81.9 L213.0,82.5 L214.0,82.9 L215.0,83.3 L216.0,83.7 L217.0,84.0 L218.0,84.2 L219.0,84.4 L220.0,84.5 L221.0,84.5 L222.0,84.5 L223.0,84.4 L224.0,84.2 L225.0,84.0 L226.0,83.7 L227.0,83.4 L228.0,83.0 L229.0,82.5 L230.0,82.0 L231.0,81.4 L232.0,80.8 L233.0,80.1 L234.0,79.4 L235.0,78.6 L236.0,77.7 L237.0,76.9 L238.0,75.9 L239.0,75.0 L240.0,74.0 L241.0,73.0 L242.0,71.9 L243.0,70.8 L244.0,69.7 L245.0,68.6 L246.0,67.5 L247.0,66.4 L248.0,65.3 L249.0,64.2 L250.0,63.1 L251.0,62.0 L252.0,60.9 L253.0,59.8 L254.0,58.8 L255.0,57.8 L256.0,56.9 L257.0,56.0 L258.0,55.1 L259.0,54.2 L260.0,53.5 L261.0,52.7 L262.0,52.0 L263.0,51.4 L264.0,50.8 L265.0,50.3 L266.0,49.8 L267.0,49.4 L268.0,49.0 L269.0,48.6 L270.0,48.3 L271.0,48.0 L272.0,47.8 L273.0,47.6 L274.0,47.4 L275.0,47.3 L276.0,47.1 L277.0,47.0 L278.0,46.9 L279.0,46.9 L280.0,46.8 L281.0,46.8 L282.0,46.7 L283.0,46.7 L284.0,46.7 L285.0,46.6 L286.0,46.7 L287.0,46.8 L288.0,46.9 L289.0,46.9 L290.0,47.0 L291.0,47.1 L292.0,47.2 L293.0,47.3 L294.0,47.3 L295.0,47.4 L296.0,47.5 L297.0,47.6 L298.0,47.7 L299.0,47.7 L300.0,47.8 L301.0,47.9 L302.0,48.0 L303.0,48.1 L304.0,48.1 L305.0,48.2 L306.0,48.3 L307.0,48.4 L308.0,48.5 L309.0,48.6 L310.0,48.6 L311.0,48.7 L312.0,48.8 L313.0,48.9 L314.0,49.0 L315.0,49.0 L316.0,49.1 L317.0,49.2 L318.0,49.3 L319.0,49.4 L320.0,49.4 L321.0,49.5 L322.0,49.6 L323.0,49.7 L324.0,49.8 L325.0,49.9 L326.0,49.9 L327.0,50.0 L328.0,50.1 L329.0,50.2 L330.0,50.3 L331.0,50.3 L332.0,50.4 L333.0,50.5 L334.0,50.6 L335.0,50.7 L336.0,50.7 L337.0,50.8 L338.0,50.9 L339.0,51.0 L340.0,51.1 L341.0,51.2 L342.0,51.2" stroke="#2a8a9a"/>
<path d="M84.0,67.0 L85.0,66.7 L86.0,66.3 L87.0,66.0 L88.0,65.7 L89.0,65.3 L90.0,65.0 L91.0,64.7 L92.0,64.3 L93.0,64.0 L94.0,63.7 L95.0,63.4 L96.0,63.0 L97.0,62.7 L98.0,62.4 L99.0,62.1 L100.0,61.8 L101.0,61.5 L102.0,61.1 L103.0,60.8 L104.0,60.5 L105.0,60.2 L106.0,59.9 L107.0,59.6 L108.0,59.3 L109.0,59.0 L110.0,58.7 L111.0,58.4 L112.0,58.1 L113.0,57.8 L114.0,57.5 L115.0,57.2 L116.0,56.9 L117.0,56.7 L118.0,56.4 L119.0,56.1 L120.0,55.8 L121.0,55.5 L122.0,55.2 L123.0,55.0 L124.0,54.7 L125.0,54.4 L126.0,54.2 L127.0,53.9 L128.0,53.6 L129.0,53.4 L130.0,53.1 L131.0,52.8 L132.0,52.6 L133.0,52.3 L134.0,52.1 L135.0,51.8 L136.0,51.6 L137.0,51.3 L138.0,51.1 L139.0,50.9 L140.0,50.6 L141.0,50.4 L142.0,50.2 L143.0,50.0 L144.0,49.7 L145.0,49.5 L146.0,49.3 L147.0,49.1 L148.0,48.9 L149.0,48.7 L150.0,48.5 L151.0,48.3 L152.0,48.1 L153.0,47.9 L154.0,47.8 L155.0,47.6 L156.0,47.4 L157.0,47.3 L158.0,47.2 L159.0,47.1 L160.0,47.0 L161.0,46.9 L162.0,46.8 L163.0,46.9 L164.0,46.9 L165.0,47.0 L166.0,47.1 L167.0,47.3 L168.0,47.4 L169.0,47.6 L170.0,47.8 L171.0,48.1 L172.0,48.4 L173.0,48.7 L174.0,49.1 L175.0,49.5 L176.0,50.0 L177.0,50.6 L178.0,51.2 L179.0,51.8 L180.0,52.6 L181.0,53.3 L182.0,54.2 L183.0,55.1 L184.0,56.0 L185.0,57.1 L186.0,58.1 L187.0,59.2 L188.0,60.4 L189.0,61.6 L190.0,62.9 L191.0,64.1 L192.0,65.4 L193.0,66.7 L194.0,68.1 L195.0,69.4 L196.0,70.8 L197.0,72.1 L198.0,73.5 L199.0,74.8 L200.0,76.1 L201.0,77.4 L202.0,78.6 L203.0,79.8 L204.0,81.0 L205.0,82.1 L206.0,83.2 L207.0,84.3 L208.0,85.2 L209.0,86.2 L210.0,87.0 L211.0,87.8 L212.0,88.5 L213.0,89.2 L214.0,89.8 L215.0,90.3 L216.0,90.8 L217.0,91.1 L218.0,91.4 L219.0,91.7 L220.0,91.8 L221.0,91.9 L222.0,91.9 L223.0,91.8 L224.0,91.7 L225.0,91.5 L226.0,91.2 L227.0,90.8 L228.0,90.4 L229.0,89.9 L230.0,89.3 L231.0,88.7 L232.0,87.9 L233.0,87.2 L234.0,86.4 L235.0,85.5 L236.0,84.5 L237.0,83.5 L238.0,82.5 L239.0,81.4 L240.0,80.2 L241.0,79.1 L242.0,77.8 L243.0,76.6 L244.0,75.3 L245.0,74.0 L246.0,72.7 L247.0,71.4 L248.0,70.1 L249.0,68.8 L250.0,67.4 L251.0,66.1 L252.0,64.8 L253.0,63.6 L254.0,62.3 L255.0,61.1 L256.0,60.0 L257.0,58.8 L258.0,57.8 L259.0,56.7 L260.0,55.8 L261.0,54.8 L262.0,54.0 L263.0,53.2 L264.0,52.4 L265.0,51.7 L266.0,51.1 L267.0,50.5 L268.0,50.0 L269.0,49.5 L270.0,49.1 L271.0,48.7 L272.0,48.4 L273.0,48.1 L274.0,47.8 L275.0,47.6 L276.0,47.4 L277.0,47.3 L278.0,47.1 L279.0,47.0 L280.0,46.9 L281.0,46.9 L282.0,46.8 L283.0,46.8 L284.0,46.7 L285.0,46.7 L286.0,46.7 L287.0,46.6 L288.0,46.6 L289.0,46.6 L290.0,46.6 L291.0,46.6 L292.0,46.6 L293.0,46.7 L294.0,46.8 L295.0,46.8 L296.0,46.9 L297.0,47.0 L298.0,47.1 L299.0,47.1 L300.0,47.2 L301.0,47.3 L302.0,47.4 L303.0,47.4 L304.0,47.5 L305.0,47.6 L306.0,47.7 L307.0,47.8 L308.0,47.8 L309.0,47.9 L310.0,48.0 L311.0,48.1 L312.0,48.1 L313.0,48.2 L314.0,48.3 L315.0,48.4 L316.0,48.4 L317.0,48.5 L318.0,48.6 L319.0,48.7 L320.0,48.7 L321.0,48.8 L322.0,48.9 L323.0,49.0 L324.0,49.1 L325.0,49.1 L326.0,49.2 L327.0,49.3 L328.0,49.4 L329.0,49.4 L330.0,49.5 L331.0,49.6 L332.0,49.7 L333.0,49.7 L334.0,49.8 L335.0,49.9 L336.0,50.0 L337.0,50.1 L338.0,50.1 L339.0,50.2 L340.0,50.3 L341.0,50.4 L342.0,50.4" stroke="#9a6a3a"/>
<path d="M84.0,66.0 L85.0,65.6 L86.0,65.3 L87.0,64.9 L88.0,64.5 L89.0,64.1 L90.0,63.8 L91.0,63.4 L92.0,63.1 L93.0,62.7 L94.0,62.3 L95.0,62.0 L96.0,61.6 L97.0,61.3 L98.0,61.0 L99.0,60.6 L100.0,60.3 L101.0,59.9 L102.0,59.6 L103.0,59.3 L104.0,58.9 L105.0,58.6 L106.0,58.3 L107.0,57.9 L108.0,57.6 L109.0,57.3 L110.0,57.0 L111.0,56.7 L112.0,56.4 L113.0,56.1 L114.0,55.8 L115.0,55.5 L116.0,55.2 L117.0,54.9 L118.0,54.6 L119.0,54.3 L120.0,54.0 L121.0,53.7 L122.0,53.4 L123.0,53.1 L124.0,52.9 L125.0,52.6 L126.0,52.3 L127.0,52.1 L128.0,51.8 L129.0,51.6 L130.0,51.3 L131.0,51.1 L132.0,50.8 L133.0,50.6 L134.0,50.3 L135.0,50.1 L136.0,49.9 L137.0,49.6 L138.0,49.4 L139.0,49.2 L140.0,49.0 L141.0,48.8 L142.0,48.6 L143.0,48.4 L144.0,48.2 L145.0,48.0 L146.0,47.9 L147.0,47.7 L148.0,47.5 L149.0,47.4 L150.0,47.2 L151.0,47.1 L152.0,47.0 L153.0,46.9 L154.0,46.8 L155.0,46.7 L156.0,46.7 L157.0,46.7 L158.0,46.7 L159.0,46.7 L160.0,46.8 L161.0,46.8 L162.0,46.9 L163.0,46.9 L164.0,47.0 L165.0,47.2 L166.0,47.3 L167.0,47.5 L168.0,47.7 L169.0,47.9 L170.0,48.2 L171.0,48.5 L172.0,48.9 L173.0,49.3 L174.0,49.8 L175.0,50.3 L176.0,50.9 L177.0,51.6 L178.0,52.3 L179.0,53.2 L180.0,54.0 L181.0,55.0 L182.0,56.0 L183.0,57.1 L184.0,58.3 L185.0,59.5 L186.0,60.8 L187.0,62.2 L188.0,63.6 L189.0,65.0 L190.0,66.5 L191.0,68.1 L192.0,69.6 L193.0,71.2 L194.0,72.8 L195.0,74.5 L196.0,76.1 L197.0,77.7 L198.0,79.4 L199.0,81.0 L200.0,82.5 L201.0,84.1 L202.0,85.6 L203.0,87.1 L204.0,88.5 L205.0,89.9 L206.0,91.2 L207.0,92.5 L208.0,93.7 L209.0,94.8 L210.0,95.9 L211.0,96.9 L212.0,97.8 L213.0,98.6 L214.0,99.4 L215.0,100.0 L216.0,100.6 L217.0,101.1 L218.0,101.5 L219.0,101.8 L220.0,102.0 L221.0,102.2 L222.0,102.2 L223.0,102.2 L224.0,102.0 L225.0,101.8 L226.0,101.5 L227.0,101.1 L228.0,100.6 L229.0,100.1 L230.0,99.4 L231.0,98.7 L232.0,97.9 L233.0,97.0 L234.0,96.1 L235.0,95.1 L236.0,94.0 L237.0,92.8 L238.0,91.6 L239.0,90.3 L240.0,89.0 L241.0,87.6 L242.0,86.2 L243.0,84.7 L244.0,83.2 L245.0,81.7 L246.0,80.1 L247.0,78.5 L248.0,76.9 L249.0,75.3 L250.0,73.7 L251.0,72.2 L252.0,70.6 L253.0,69.0 L254.0,67.5 L255.0,66.0 L256.0,64.6 L257.0,63.1 L258.0,61.8 L259.0,60.5 L260.0,59.2 L261.0,58.0 L262.0,56.9 L263.0,55.9 L264.0,54.9 L265.0,53.9 L266.0,53.1 L267.0,52.3 L268.0,51.6 L269.0,50.9 L270.0,50.3 L271.0,49.8 L272.0,49.3 L273.0,48.9 L274.0,48.5 L275.0,48.2 L276.0,47.9 L277.0,47.7 L278.0,47.5 L279.0,47.3 L280.0,47.2 L281.0,47.1 L282.0,47.0 L283.0,47.0 L284.0,47.1 L285.0,47.1 L286.0,47.2 L287.0,47.3 L288.0,47.4 L289.0,47.5 L290.0,47.6 L291.0,47.7 L292.0,47.8 L293.0,48.0 L294.0,48.1 L295.0,48.2 L296.0,48.3 L297.0,48.4 L298.0,48.5 L299.0,48.7 L300.0,48.8 L301.0,48.9 L302.0,49.0 L303.0,49.2 L304.0,49.3 L305.0,49.4 L306.0,49.5 L307.0,49.6 L308.0,49.8 L309.0,49.9 L310.0,50.0 L311.0,50.1 L312.0,50.3 L313.0,50.4 L314.0,50.5 L315.0,50.6 L316.0,50.7 L317.0,50.9 L318.0,51.0 L319.0,51.1 L320.0,51.2 L321.0,51.3 L322.0,51.5 L323.0,51.6 L324.0,51.7 L325.0,51.8 L326.0,52.0 L327.0,52.1 L328.0,52.2 L329.0,52.3 L330.0,52.4 L331.0,52.6 L332.0,52.7 L333.0,52.8 L334.0,52.9 L335.0,53.1 L336.0,53.2 L337.0,53.3 L338.0,53.4 L339.0,53.5 L340.0,53.7 L341.0,53.8 L342.0,53.9" stroke="#3ab04a"/>
<path d="M84.0,70.0 L85.0,69.7 L86.0,69.4 L87.0,69.0 L88.0,68.7 L89.0,68.4 L90.0,68.1 L91.0,67.7 L92.0,67.4 L93.0,67.1 L94.0,66.8 L95.0,66.5 L96.0,66.1 L97.0,65.8 L98.0,65.5 L99.0,65.2 L100.0,64.9 L101.0,64.5 L102.0,64.2 L103.0,63.9 L104.0,63.6 L105.0,63.3 L106.0,63.0 L107.0,62.6 L108.0,62.3 L109.0,62.0 L110.0,61.7 L111.0,61.4 L112.0,61.1 L113.0,60.8 L114.0,60.5 L115.0,60.1 L116.0,59.8 L117.0,59.5 L118.0,59.2 L119.0,58.9 L120.0,58.6 L121.0,58.3 L122.0,58.0 L123.0,57.7 L124.0,57.4 L125.0,57.1 L126.0,56.8 L127.0,56.5 L128.0,56.2 L129.0,55.9 L130.0,55.6 L131.0,55.3 L132.0,55.0 L133.0,54.7 L134.0,54.4 L135.0,54.1 L136.0,53.8 L137.0,53.5 L138.0,53.2 L139.0,52.9 L140.0,52.7 L141.0,52.4 L142.0,52.1 L143.0,51.8 L144.0,51.5 L145.0,51.2 L146.0,51.0 L147.0,50.7 L148.0,50.4 L149.0,50.1 L150.0,49.9 L151.0,49.6 L152.0,49.3 L153.0,49.1 L154.0,48.8 L155.0,48.6 L156.0,48.3 L157.0,48.1 L158.0,47.9 L159.0,47.7 L160.0,47.5 L161.0,47.3 L162.0,47.1 L163.0,47.0 L164.0,47.1 L165.0,47.2 L166.0,47.3 L167.0,47.5 L168.0,47.7 L169.0,48.0 L170.0,48.3 L171.0,48.6 L172.0,49.0 L173.0,49.5 L174.0,50.0 L175.0,50.5 L176.0,51.2 L177.0,51.9 L178.0,52.6 L179.0,53.5 L180.0,54.4 L181.0,55.4 L182.0,56.5 L183.0,57.6 L184.0,58.8 L185.0,60.1 L186.0,61.5 L187.0,62.9 L188.0,64.4 L189.0,65.9 L190.0,67.4 L191.0,69.0 L192.0,70.7 L193.0,72.4 L194.0,74.0 L195.0,75.7 L196.0,77.4 L197.0,79.1 L198.0,80.8 L199.0,82.5 L200.0,84.2 L201.0,85.8 L202.0,87.4 L203.0,88.9 L204.0,90.4 L205.0,91.9 L206.0,93.2 L207.0,94.6 L208.0,95.8 L209.0,97.0 L210.0,98.1 L211.0,99.2 L212.0,100.1 L213.0,101.0 L214.0,101.8 L215.0,102.5 L216.0,103.1 L217.0,103.6 L218.0,104.0 L219.0,104.4 L220.0,104.6 L221.0,104.7 L222.0,104.8 L223.0,104.8 L224.0,104.6 L225.0,104.4 L226.0,104.1 L227.0,103.7 L228.0,103.2 L229.0,102.7 L230.0,102.0 L231.0,101.3 L232.0,100.5 L233.0,99.6 L234.0,98.6 L235.0,97.5 L236.0,96.4 L237.0,95.2 L238.0,94.0 L239.0,92.6 L240.0,91.3 L241.0,89.8 L242.0,88.3 L243.0,86.8 L244.0,85.3 L245.0,83.7 L246.0,82.0 L247.0,80.4 L248.0,78.7 L249.0,77.1 L250.0,75.4 L251.0,73.8 L252.0,72.1 L253.0,70.5 L254.0,68.9 L255.0,67.3 L256.0,65.8 L257.0,64.3 L258.0,62.9 L259.0,61.5 L260.0,60.2 L261.0,58.9 L262.0,57.7 L263.0,56.6 L264.0,55.6 L265.0,54.6 L266.0,53.7 L267.0,52.8 L268.0,52.0 L269.0,51.3 L270.0,50.7 L271.0,50.1 L272.0,49.6 L273.0,49.2 L274.0,48.8 L275.0,48.4 L276.0,48.1 L277.0,47.8 L278.0,47.6 L279.0,47.4 L280.0,47.3 L281.0,47.1 L282.0,47.0 L283.0,46.9 L284.0,46.9 L285.0,46.8 L286.0,46.8 L287.0,46.7 L288.0,46.7 L289.0,46.7 L290.0,46.6 L291.0,46.7 L292.0,46.8 L293.0,46.9 L294.0,47.0 L295.0,47.1 L296.0,47.2 L297.0,47.3 L298.0,47.4 L299.0,47.5 L300.0,47.6 L301.0,47.7 L302.0,47.8 L303.0,47.9 L304.0,48.0 L305.0,48.1 L306.0,48.2 L307.0,48.3 L308.0,48.4 L309.0,48.5 L310.0,48.6 L311.0,48.7 L312.0,48.9 L313.0,49.0 L314.0,49.1 L315.0,49.2 L316.0,49.3 L317.0,49.4 L318.0,49.5 L319.0,49.6 L320.0,49.7 L321.0,49.8 L322.0,49.9 L323.0,50.0 L324.0,50.1 L325.0,50.2 L326.0,50.3 L327.0,50.4 L328.0,50.5 L329.0,50.6 L330.0,50.7 L331.0,50.8 L332.0,50.9 L333.0,51.0 L334.0,51.1 L335.0,51.2 L336.0,51.3 L337.0,51.4 L338.0,51.5 L339.0,51.6 L340.0,51.7 L341.0,51.8 L342.0,51.9" stroke="#c02a8a"/>
<path d="M84.0,74.5 L85.0,74.0 L86.0,73.6 L87.0,73.1 L88.0,72.7 L89.0,72.3 L90.0,71.8 L91.0,71.4 L92.0,70.9 L93.0,70.5 L94.0,70.0 L95.0,69.6 L96.0,69.2 L97.0,68.7 L98.0,68.3 L99.0,67.9 L100.0,67.4 L101.0,67.0 L102.0,66.6 L103.0,66.2 L104.0,65.7 L105.0,65.3 L106.0,64.9 L107.0,64.5 L108.0,64.0 L109.0,63.6 L110.0,63.2 L111.0,62.8 L112.0,62.4 L113.0,62.0 L114.0,61.6 L115.0,61.2 L116.0,60.8 L117.0,60.4 L118.0,60.0 L119.0,59.6 L120.0,59.2 L121.0,58.8 L122.0,58.4 L123.0,58.0 L124.0,57.6 L125.0,57.2 L126.0,56.8 L127.0,56.4 L128.0,56.1 L129.0,55.7 L130.0,55.3 L131.0,54.9 L132.0,54.6 L133.0,54.2 L134.0,53.8 L135.0,53.5 L136.0,53.1 L137.0,52.8 L138.0,52.4 L139.0,52.1 L140.0,51.7 L141.0,51.4 L142.0,51.1 L143.0,50.7 L144.0,50.4 L145.0,50.1 L146.0,49.8 L147.0,49.5 L148.0,49.2 L149.0,48.9 L150.0,48.6 L151.0,48.3 L152.0,48.0 L153.0,47.7 L154.0,47.5 L155.0,47.3 L156.0,47.0 L157.0,46.9 L158.0,46.7 L159.0,46.7 L160.0,46.8 L161.0,46.8 L162.0,46.9 L163.0,47.0 L164.0,47.1 L165.0,47.2 L166.0,47.4 L167.0,47.6 L168.0,47.8 L169.0,48.1 L170.0,48.4 L171.0,48.8 L172.0,49.2 L173.0,49.7 L174.0,50.2 L175.0,50.8 L176.0,51.5 L177.0,52.2 L178.0,53.0 L179.0,53.9 L180.0,54.9 L181.0,56.0 L182.0,57.1 L183.0,58.3 L184.0,59.6 L185.0,60.9 L186.0,62.4 L187.0,63.9 L188.0,65.4 L189.0,67.0 L190.0,68.7 L191.0,70.3 L192.0,72.1 L193.0,73.8 L194.0,75.6 L195.0,77.4 L196.0,79.2 L197.0,81.0 L198.0,82.8 L199.0,84.5 L200.0,86.3 L201.0,88.0 L202.0,89.7 L203.0,91.3 L204.0,92.9 L205.0,94.4 L206.0,95.9 L207.0,97.3 L208.0,98.6 L209.0,99.8 L210.0,101.0 L211.0,102.1 L212.0,103.1 L213.0,104.1 L214.0,104.9 L215.0,105.6 L216.0,106.3 L217.0,106.9 L218.0,107.3 L219.0,107.7 L220.0,108.0 L221.0,108.1 L222.0,108.2 L223.0,108.2 L224.0,108.1 L225.0,107.8 L226.0,107.5 L227.0,107.1 L228.0,106.6 L229.0,106.1 L230.0,105.4 L231.0,104.6 L232.0,103.8 L233.0,102.9 L234.0,101.9 L235.0,100.8 L236.0,99.6 L237.0,98.4 L238.0,97.1 L239.0,95.7 L240.0,94.2 L241.0,92.8 L242.0,91.2 L243.0,89.6 L244.0,88.0 L245.0,86.3 L246.0,84.6 L247.0,82.9 L248.0,81.2 L249.0,79.4 L250.0,77.7 L251.0,75.9 L252.0,74.2 L253.0,72.5 L254.0,70.8 L255.0,69.1 L256.0,67.5 L257.0,65.9 L258.0,64.4 L259.0,62.9 L260.0,61.5 L261.0,60.2 L262.0,58.9 L263.0,57.7 L264.0,56.5 L265.0,55.5 L266.0,54.5 L267.0,53.5 L268.0,52.7 L269.0,51.9 L270.0,51.2 L271.0,50.6 L272.0,50.0 L273.0,49.5 L274.0,49.1 L275.0,48.7 L276.0,48.3 L277.0,48.0 L278.0,47.8 L279.0,47.6 L280.0,47.4 L281.0,47.2 L282.0,47.1 L283.0,47.0 L284.0,46.9 L285.0,46.8 L286.0,46.8 L287.0,46.7 L288.0,46.7 L289.0,46.7 L290.0,46.7 L291.0,46.6 L292.0,46.6 L293.0,46.6 L294.0,46.6 L295.0,46.6 L296.0,46.6 L297.0,46.7 L298.0,46.7 L299.0,46.7 L300.0,46.7 L301.0,46.7 L302.0,46.8 L303.0,46.8 L304.0,46.8 L305.0,46.8 L306.0,46.8 L307.0,46.9 L308.0,46.9 L309.0,46.9 L310.0,46.9 L311.0,46.9 L312.0,47.0 L313.0,47.0 L314.0,47.0 L315.0,47.0 L316.0,47.1 L317.0,47.1 L318.0,47.1 L319.0,47.1 L320.0,47.1 L321.0,47.2 L322.0,47.2 L323.0,47.2 L324.0,47.2 L325.0,47.2 L326.0,47.3 L327.0,47.3 L328.0,47.3 L329.0,47.3 L330.0,47.3 L331.0,47.4 L332.0,47.4 L333.0,47.4 L334.0,47.4 L335.0,47.4 L336.0,47.5 L337.0,47.5 L338.0,47.5 L339.0,47.5 L340.0,47.5 L341.0,47.6 L342.0,47.6" stroke="#3ab8d0"/>
<path d="M84.0,61.4 L85.0,61.1 L86.0,60.9 L87.0,60.6 L88.0,60.4 L89.0,60.1 L90.0,59.9 L91.0,59.6 L92.0,59.4 L93.0,59.1 L94.0,58.9 L95.0,58.6 L96.0,58.4 L97.0,58.1 L98.0,57.9 L99.0,57.6 L100.0,57.4 L101.0,57.2 L102.0,56.9 L103.0,56.7 L104.0,56.4 L105.0,56.2 L106.0,56.0 L107.0,55.8 L108.0,55.5 L109.0,55.3 L110.0,55.1 L111.0,54.8 L112.0,54.6 L113.0,54.4 L114.0,54.2 L115.0,54.0 L116.0,53.7 L117.0,53.5 L118.0,53.3 L119.0,53.1 L120.0,52.9 L121.0,52.7 L122.0,52.5 L123.0,52.3 L124.0,52.1 L125.0,51.9 L126.0,51.7 L127.0,51.5 L128.0,51.3 L129.0,51.1 L130.0,50.9 L131.0,50.7 L132.0,50.5 L133.0,50.4 L134.0,50.2 L135.0,50.0 L136.0,49.8 L137.0,49.6 L138.0,49.5 L139.0,49.3 L140.0,49.1 L141.0,49.0 L142.0,48.8 L143.0,48.7 L144.0,48.5 L145.0,48.4 L146.0,48.2 L147.0,48.1 L148.0,47.9 L149.0,47.8 L150.0,47.7 L151.0,47.5 L152.0,47.4 L153.0,47.3 L154.0,47.2 L155.0,47.1 L156.0,47.0 L157.0,47.0 L158.0,46.9 L159.0,46.9 L160.0,46.9 L161.0,46.9 L162.0,47.0 L163.0,47.1 L164.0,47.2 L165.0,47.4 L166.0,47.6 L167.0,47.8 L168.0,48.1 L169.0,48.4 L170.0,48.8 L171.0,49.2 L172.0,49.7 L173.0,50.2 L174.0,50.8 L175.0,51.5 L176.0,52.3 L177.0,53.2 L178.0,54.1 L179.0,55.1 L180.0,56.3 L181.0,57.5 L182.0,58.8 L183.0,60.1 L184.0,61.6 L185.0,63.1 L186.0,64.7 L187.0,66.4 L188.0,68.2 L189.0,70.0 L190.0,71.9 L191.0,73.8 L192.0,75.8 L193.0,77.7 L194.0,79.8 L195.0,81.8 L196.0,83.8 L197.0,85.8 L198.0,87.9 L199.0,89.9 L200.0,91.9 L201.0,93.8 L202.0,95.7 L203.0,97.6 L204.0,99.4 L205.0,101.1 L206.0,102.8 L207.0,104.4 L208.0,105.9 L209.0,107.4 L210.0,108.7 L211.0,110.0 L212.0,111.2 L213.0,112.2 L214.0,113.2 L215.0,114.1 L216.0,114.9 L217.0,115.6 L218.0,116.1 L219.0,116.6 L220.0,116.9 L221.0,117.2 L222.0,117.3 L223.0,117.3 L224.0,117.2 L225.0,117.0 L226.0,116.7 L227.0,116.3 L228.0,115.8 L229.0,115.2 L230.0,114.5 L231.0,113.7 L232.0,112.8 L233.0,111.8 L234.0,110.7 L235.0,109.5 L236.0,108.3 L237.0,106.9 L238.0,105.5 L239.0,104.0 L240.0,102.4 L241.0,100.8 L242.0,99.1 L243.0,97.3 L244.0,95.5 L245.0,93.6 L246.0,91.7 L247.0,89.8 L248.0,87.9 L249.0,85.9 L250.0,83.9 L251.0,82.0 L252.0,80.0 L253.0,78.0 L254.0,76.1 L255.0,74.2 L256.0,72.3 L257.0,70.5 L258.0,68.7 L259.0,67.0 L260.0,65.3 L261.0,63.7 L262.0,62.2 L263.0,60.7 L264.0,59.4 L265.0,58.1 L266.0,56.9 L267.0,55.7 L268.0,54.7 L269.0,53.7 L270.0,52.8 L271.0,52.0 L272.0,51.3 L273.0,50.7 L274.0,50.1 L275.0,49.6 L276.0,49.1 L277.0,48.7 L278.0,48.3 L279.0,48.0 L280.0,47.8 L281.0,47.6 L282.0,47.4 L283.0,47.2 L284.0,47.1 L285.0,47.0 L286.0,46.9 L287.0,46.9 L288.0,46.9 L289.0,46.9 L290.0,46.9 L291.0,47.0 L292.0,47.0 L293.0,47.1 L294.0,47.1 L295.0,47.2 L296.0,47.2 L297.0,47.3 L298.0,47.3 L299.0,47.4 L300.0,47.4 L301.0,47.5 L302.0,47.6 L303.0,47.6 L304.0,47.7 L305.0,47.7 L306.0,47.8 L307.0,47.9 L308.0,47.9 L309.0,48.0 L310.0,48.0 L311.0,48.1 L312.0,48.2 L313.0,48.2 L314.0,48.3 L315.0,48.3 L316.0,48.4 L317.0,48.5 L318.0,48.5 L319.0,48.6 L320.0,48.6 L321.0,48.7 L322.0,48.8 L323.0,48.8 L324.0,48.9 L325.0,48.9 L326.0,49.0 L327.0,49.1 L328.0,49.1 L329.0,49.2 L330.0,49.2 L331.0,49.3 L332.0,49.4 L333.0,49.4 L334.0,49.5 L335.0,49.5 L336.0,49.6 L337.0,49.7 L338.0,49.7 L339.0,49.8 L340.0,49.8 L341.0,49.9 L342.0,50.0" stroke="#2a2a90"/>
<path d="M84.0,69.0 L85.0,68.7 L86.0,68.4 L87.0,68.0 L88.0,67.7 L89.0,67.4 L90.0,67.1 L91.0,66.7 L92.0,66.4 L93.0,66.1 L94.0,65.8 L95.0,65.5 L96.0,65.1 L97.0,64.8 L98.0,64.5 L99.0,64.2 L100.0,63.8 L101.0,63.5 L102.0,63.2 L103.0,62.9 L104.0,62.6 L105.0,62.3 L106.0,61.9 L107.0,61.6 L108.0,61.3 L109.0,61.0 L110.0,60.7 L111.0,60.3 L112.0,60.0 L113.0,59.7 L114.0,59.4 L115.0,59.1 L116.0,58.8 L117.0,58.5 L118.0,58.1 L119.0,57.8 L120.0,57.5 L121.0,57.2 L122.0,56.9 L123.0,56.6 L124.0,56.3 L125.0,56.0 L126.0,55.6 L127.0,55.3 L128.0,55.0 L129.0,54.7 L130.0,54.4 L131.0,54.1 L132.0,53.8 L133.0,53.5 L134.0,53.2 L135.0,52.9 L136.0,52.6 L137.0,52.3 L138.0,52.0 L139.0,51.7 L140.0,51.4 L141.0,51.1 L142.0,50.8 L143.0,50.5 L144.0,50.2 L145.0,49.9 L146.0,49.6 L147.0,49.3 L148.0,49.0 L149.0,48.7 L150.0,48.4 L151.0,48.1 L152.0,47.9 L153.0,47.6 L154.0,47.3 L155.0,47.1 L156.0,46.8 L157.0,46.7 L158.0,46.8 L159.0,46.8 L160.0,46.9 L161.0,46.9 L162.0,47.0 L163.0,47.2 L164.0,47.3 L165.0,47.5 L166.0,47.7 L167.0,48.0 L168.0,48.3 L169.0,48.6 L170.0,49.0 L171.0,49.5 L172.0,50.0 L173.0,50.6 L174.0,51.3 L175.0,52.0 L176.0,52.9 L177.0,53.8 L178.0,54.8 L179.0,55.9 L180.0,57.2 L181.0,58.4 L182.0,59.8 L183.0,61.3 L184.0,62.9 L185.0,64.6 L186.0,66.3 L187.0,68.1 L188.0,70.0 L189.0,72.0 L190.0,74.0 L191.0,76.0 L192.0,78.1 L193.0,80.3 L194.0,82.4 L195.0,84.6 L196.0,86.8 L197.0,89.0 L198.0,91.2 L199.0,93.3 L200.0,95.4 L201.0,97.5 L202.0,99.6 L203.0,101.6 L204.0,103.5 L205.0,105.4 L206.0,107.2 L207.0,109.0 L208.0,110.6 L209.0,112.2 L210.0,113.7 L211.0,115.0 L212.0,116.3 L213.0,117.5 L214.0,118.6 L215.0,119.6 L216.0,120.4 L217.0,121.2 L218.0,121.8 L219.0,122.3 L220.0,122.7 L221.0,123.0 L222.0,123.2 L223.0,123.2 L224.0,123.1 L225.0,123.0 L226.0,122.7 L227.0,122.3 L228.0,121.8 L229.0,121.2 L230.0,120.4 L231.0,119.6 L232.0,118.7 L233.0,117.6 L234.0,116.5 L235.0,115.3 L236.0,114.0 L237.0,112.6 L238.0,111.1 L239.0,109.5 L240.0,107.8 L241.0,106.1 L242.0,104.3 L243.0,102.4 L244.0,100.5 L245.0,98.6 L246.0,96.5 L247.0,94.5 L248.0,92.4 L249.0,90.3 L250.0,88.2 L251.0,86.1 L252.0,84.0 L253.0,81.9 L254.0,79.8 L255.0,77.7 L256.0,75.7 L257.0,73.7 L258.0,71.7 L259.0,69.9 L260.0,68.0 L261.0,66.3 L262.0,64.6 L263.0,63.0 L264.0,61.4 L265.0,60.0 L266.0,58.6 L267.0,57.4 L268.0,56.2 L269.0,55.1 L270.0,54.1 L271.0,53.1 L272.0,52.3 L273.0,51.5 L274.0,50.9 L275.0,50.2 L276.0,49.7 L277.0,49.2 L278.0,48.8 L279.0,48.4 L280.0,48.1 L281.0,47.8 L282.0,47.6 L283.0,47.4 L284.0,47.3 L285.0,47.1 L286.0,47.0 L287.0,46.9 L288.0,46.8 L289.0,46.7 L290.0,46.6 L291.0,46.6 L292.0,46.5 L293.0,46.5 L294.0,46.4 L295.0,46.4 L296.0,46.3 L297.0,46.3 L298.0,46.3 L299.0,46.2 L300.0,46.2 L301.0,46.2 L302.0,46.2 L303.0,46.1 L304.0,46.1 L305.0,46.1 L306.0,46.0 L307.0,46.0 L308.0,46.0 L309.0,46.0 L310.0,45.9 L311.0,45.9 L312.0,45.9 L313.0,45.8 L314.0,45.8 L315.0,45.8 L316.0,45.8 L317.0,45.7 L318.0,45.7 L319.0,45.7 L320.0,45.6 L321.0,45.6 L322.0,45.6 L323.0,45.6 L324.0,45.5 L325.0,45.5 L326.0,45.5 L327.0,45.4 L328.0,45.4 L329.0,45.4 L330.0,45.4 L331.0,45.3 L332.0,45.3 L333.0,45.3 L334.0,45.2 L335.0,45.2 L336.0,45.2 L337.0,45.2 L338.0,45.1 L339.0,45.1 L340.0,45.1 L341.0,45.1 L342.0,45.0" stroke="#a8b840"/>
<path d="M84.0,75.5 L85.0,75.0 L86.0,74.6 L87.0,74.1 L88.0,73.7 L89.0,73.2 L90.0,72.8 L91.0,72.3 L92.0,71.9 L93.0,71.4 L94.0,71.0 L95.0,70.5 L96.0,70.1 L97.0,69.6 L98.0,69.2 L99.0,68.8 L100.0,68.3 L101.0,67.9 L102.0,67.5 L103.0,67.0 L104.0,66.6 L105.0,66.2 L106.0,65.8 L107.0,65.3 L108.0,64.9 L109.0,64.5 L110.0,64.1 L111.0,63.7 L112.0,63.2 L113.0,62.8 L114.0,62.4 L115.0,62.0 L116.0,61.6 L117.0,61.2 L118.0,60.8 L119.0,60.4 L120.0,60.0 L121.0,59.6 L122.0,59.2 L123.0,58.8 L124.0,58.5 L125.0,58.1 L126.0,57.7 L127.0,57.3 L128.0,56.9 L129.0,56.6 L130.0,56.2 L131.0,55.8 L132.0,55.5 L133.0,55.1 L134.0,54.7 L135.0,54.4 L136.0,54.0 L137.0,53.7 L138.0,53.3 L139.0,53.0 L140.0,52.7 L141.0,52.3 L142.0,52.0 L143.0,51.7 L144.0,51.3 L145.0,51.0 L146.0,50.7 L147.0,50.4 L148.0,50.1 L149.0,49.8 L150.0,49.5 L151.0,49.2 L152.0,49.0 L153.0,48.7 L154.0,48.4 L155.0,48.2 L156.0,48.0 L157.0,47.8 L158.0,47.6 L159.0,47.4 L160.0,47.3 L161.0,47.2 L162.0,47.1 L163.0,47.2 L164.0,47.4 L165.0,47.6 L166.0,47.8 L167.0,48.1 L168.0,48.4 L169.0,48.8 L170.0,49.2 L171.0,49.7 L172.0,50.2 L173.0,50.9 L174.0,51.6 L175.0,52.4 L176.0,53.3 L177.0,54.3 L178.0,55.3 L179.0,56.5 L180.0,57.8 L181.0,59.2 L182.0,60.6 L183.0,62.2 L184.0,63.8 L185.0,65.6 L186.0,67.4 L187.0,69.3 L188.0,71.3 L189.0,73.3 L190.0,75.5 L191.0,77.6 L192.0,79.8 L193.0,82.1 L194.0,84.3 L195.0,86.6 L196.0,88.9 L197.0,91.2 L198.0,93.5 L199.0,95.7 L200.0,98.0 L201.0,100.2 L202.0,102.3 L203.0,104.4 L204.0,106.5 L205.0,108.5 L206.0,110.4 L207.0,112.2 L208.0,114.0 L209.0,115.6 L210.0,117.2 L211.0,118.6 L212.0,120.0 L213.0,121.2 L214.0,122.4 L215.0,123.4 L216.0,124.3 L217.0,125.1 L218.0,125.8 L219.0,126.4 L220.0,126.8 L221.0,127.1 L222.0,127.3 L223.0,127.4 L224.0,127.4 L225.0,127.2 L226.0,126.9 L227.0,126.5 L228.0,126.0 L229.0,125.4 L230.0,124.7 L231.0,123.8 L232.0,122.9 L233.0,121.8 L234.0,120.7 L235.0,119.4 L236.0,118.1 L237.0,116.6 L238.0,115.1 L239.0,113.4 L240.0,111.7 L241.0,109.9 L242.0,108.1 L243.0,106.2 L244.0,104.2 L245.0,102.1 L246.0,100.0 L247.0,97.9 L248.0,95.7 L249.0,93.5 L250.0,91.3 L251.0,89.1 L252.0,86.9 L253.0,84.7 L254.0,82.5 L255.0,80.3 L256.0,78.2 L257.0,76.1 L258.0,74.0 L259.0,72.0 L260.0,70.1 L261.0,68.2 L262.0,66.4 L263.0,64.7 L264.0,63.0 L265.0,61.5 L266.0,60.0 L267.0,58.6 L268.0,57.3 L269.0,56.1 L270.0,55.0 L271.0,54.0 L272.0,53.1 L273.0,52.2 L274.0,51.5 L275.0,50.8 L276.0,50.2 L277.0,49.6 L278.0,49.2 L279.0,48.8 L280.0,48.4 L281.0,48.1 L282.0,47.8 L283.0,47.6 L284.0,47.4 L285.0,47.3 L286.0,47.2 L287.0,47.2 L288.0,47.1 L289.0,47.1 L290.0,47.1 L291.0,47.1 L292.0,47.1 L293.0,47.1 L294.0,47.2 L295.0,47.2 L296.0,47.2 L297.0,47.3 L298.0,47.3 L299.0,47.4 L300.0,47.4 L301.0,47.4 L302.0,47.5 L303.0,47.5 L304.0,47.6 L305.0,47.6 L306.0,47.7 L307.0,47.7 L308.0,47.8 L309.0,47.8 L310.0,47.9 L311.0,47.9 L312.0,48.0 L313.0,48.0 L314.0,48.1 L315.0,48.1 L316.0,48.2 L317.0,48.2 L318.0,48.3 L319.0,48.3 L320.0,48.4 L321.0,48.4 L322.0,48.5 L323.0,48.5 L324.0,48.6 L325.0,48.6 L326.0,48.7 L327.0,48.7 L328.0,48.8 L329.0,48.8 L330.0,48.9 L331.0,48.9 L332.0,49.0 L333.0,49.0 L334.0,49.1 L335.0,49.1 L336.0,49.2 L337.0,49.2 L338.0,49.3 L339.0,49.3 L340.0,49.4 L341.0,49.4 L342.0,49.5" stroke="#7a7a7a"/>
<path d="M84.0,71.5 L85.0,71.1 L86.0,70.6 L87.0,70.2 L88.0,69.8 L89.0,69.3 L90.0,68.9 L91.0,68.5 L92.0,68.1 L93.0,67.6 L94.0,67.2 L95.0,66.8 L96.0,66.4 L97.0,66.0 L98.0,65.6 L99.0,65.1 L100.0,64.7 L101.0,64.3 L102.0,63.9 L103.0,63.5 L104.0,63.1 L105.0,62.7 L106.0,62.3 L107.0,61.9 L108.0,61.6 L109.0,61.2 L110.0,60.8 L111.0,60.4 L112.0,60.0 L113.0,59.6 L114.0,59.3 L115.0,58.9 L116.0,58.5 L117.0,58.1 L118.0,57.8 L119.0,57.4 L120.0,57.1 L121.0,56.7 L122.0,56.3 L123.0,56.0 L124.0,55.6 L125.0,55.3 L126.0,55.0 L127.0,54.6 L128.0,54.3 L129.0,54.0 L130.0,53.6 L131.0,53.3 L132.0,53.0 L133.0,52.7 L134.0,52.3 L135.0,52.0 L136.0,51.7 L137.0,51.4 L138.0,51.1 L139.0,50.8 L140.0,50.6 L141.0,50.3 L142.0,50.0 L143.0,49.7 L144.0,49.4 L145.0,49.2 L146.0,48.9 L147.0,48.7 L148.0,48.4 L149.0,48.2 L150.0,48.0 L151.0,47.8 L152.0,47.6 L153.0,47.4 L154.0,47.2 L155.0,47.1 L156.0,47.0 L157.0,46.9 L158.0,46.9 L159.0,46.9 L160.0,47.0 L161.0,47.1 L162.0,47.3 L163.0,47.4 L164.0,47.7 L165.0,47.9 L166.0,48.2 L167.0,48.6 L168.0,49.0 L169.0,49.4 L170.0,50.0 L171.0,50.6 L172.0,51.3 L173.0,52.1 L174.0,53.0 L175.0,53.9 L176.0,55.0 L177.0,56.2 L178.0,57.5 L179.0,59.0 L180.0,60.5 L181.0,62.1 L182.0,63.9 L183.0,65.8 L184.0,67.7 L185.0,69.8 L186.0,72.0 L187.0,74.3 L188.0,76.6 L189.0,79.1 L190.0,81.6 L191.0,84.1 L192.0,86.8 L193.0,89.4 L194.0,92.1 L195.0,94.8 L196.0,97.6 L197.0,100.3 L198.0,103.0 L199.0,105.7 L200.0,108.4 L201.0,111.0 L202.0,113.6 L203.0,116.1 L204.0,118.6 L205.0,121.0 L206.0,123.3 L207.0,125.5 L208.0,127.6 L209.0,129.7 L210.0,131.6 L211.0,133.4 L212.0,135.1 L213.0,136.6 L214.0,138.1 L215.0,139.4 L216.0,140.5 L217.0,141.6 L218.0,142.5 L219.0,143.3 L220.0,143.9 L221.0,144.4 L222.0,144.7 L223.0,144.9 L224.0,145.0 L225.0,144.9 L226.0,144.7 L227.0,144.4 L228.0,143.9 L229.0,143.3 L230.0,142.6 L231.0,141.7 L232.0,140.7 L233.0,139.6 L234.0,138.4 L235.0,137.0 L236.0,135.6 L237.0,134.0 L238.0,132.3 L239.0,130.5 L240.0,128.6 L241.0,126.6 L242.0,124.5 L243.0,122.4 L244.0,120.1 L245.0,117.8 L246.0,115.4 L247.0,113.0 L248.0,110.5 L249.0,107.9 L250.0,105.4 L251.0,102.8 L252.0,100.1 L253.0,97.5 L254.0,94.9 L255.0,92.3 L256.0,89.7 L257.0,87.1 L258.0,84.6 L259.0,82.1 L260.0,79.7 L261.0,77.3 L262.0,75.1 L263.0,72.8 L264.0,70.7 L265.0,68.7 L266.0,66.7 L267.0,64.9 L268.0,63.1 L269.0,61.5 L270.0,59.9 L271.0,58.5 L272.0,57.2 L273.0,55.9 L274.0,54.8 L275.0,53.8 L276.0,52.9 L277.0,52.0 L278.0,51.3 L279.0,50.6 L280.0,50.0 L281.0,49.4 L282.0,49.0 L283.0,48.5 L284.0,48.1 L285.0,47.8 L286.0,47.5 L287.0,47.3 L288.0,47.1 L289.0,46.9 L290.0,46.7 L291.0,46.6 L292.0,46.5 L293.0,46.4 L294.0,46.3 L295.0,46.2 L296.0,46.2 L297.0,46.1 L298.0,46.1 L299.0,46.0 L300.0,46.0 L301.0,45.9 L302.0,45.9 L303.0,45.8 L304.0,45.8 L305.0,45.8 L306.0,45.7 L307.0,45.7 L308.0,45.7 L309.0,45.6 L310.0,45.6 L311.0,45.6 L312.0,45.5 L313.0,45.5 L314.0,45.5 L315.0,45.4 L316.0,45.4 L317.0,45.4 L318.0,45.3 L319.0,45.3 L320.0,45.3 L321.0,45.2 L322.0,45.2 L323.0,45.2 L324.0,45.1 L325.0,45.1 L326.0,45.1 L327.0,45.0 L328.0,45.0 L329.0,45.0 L330.0,44.9 L331.0,44.9 L332.0,44.9 L333.0,44.8 L334.0,44.8 L335.0,44.8 L336.0,44.7 L337.0,44.7 L338.0,44.7 L339.0,44.6 L340.0,44.6 L341.0,44.6 L342.0,44.5" stroke="#a06a6a"/>
<path d="M84.0,76.5 L85.0,76.1 L86.0,75.6 L87.0,75.2 L88.0,74.8 L89.0,74.4 L90.0,73.9 L91.0,73.5 L92.0,73.1 L93.0,72.6 L94.0,72.2 L95.0,71.8 L96.0,71.4 L97.0,70.9 L98.0,70.5 L99.0,70.1 L100.0,69.7 L101.0,69.3 L102.0,68.8 L103.0,68.4 L104.0,68.0 L105.0,67.6 L106.0,67.2 L107.0,66.8 L108.0,66.3 L109.0,65.9 L110.0,65.5 L111.0,65.1 L112.0,64.7 L113.0,64.3 L114.0,63.9 L115.0,63.4 L116.0,63.0 L117.0,62.6 L118.0,62.2 L119.0,61.8 L120.0,61.4 L121.0,61.0 L122.0,60.6 L123.0,60.2 L124.0,59.8 L125.0,59.4 L126.0,59.0 L127.0,58.6 L128.0,58.2 L129.0,57.8 L130.0,57.4 L131.0,57.0 L132.0,56.6 L133.0,56.3 L134.0,55.9 L135.0,55.5 L136.0,55.1 L137.0,54.7 L138.0,54.3 L139.0,53.9 L140.0,53.6 L141.0,53.2 L142.0,52.8 L143.0,52.4 L144.0,52.1 L145.0,51.7 L146.0,51.3 L147.0,51.0 L148.0,50.6 L149.0,50.3 L150.0,49.9 L151.0,49.6 L152.0,49.3 L153.0,48.9 L154.0,48.6 L155.0,48.3 L156.0,48.1 L157.0,47.8 L158.0,47.6 L159.0,47.4 L160.0,47.2 L161.0,47.3 L162.0,47.5 L163.0,47.7 L164.0,47.9 L165.0,48.3 L166.0,48.6 L167.0,49.0 L168.0,49.5 L169.0,50.1 L170.0,50.7 L171.0,51.5 L172.0,52.3 L173.0,53.2 L174.0,54.3 L175.0,55.4 L176.0,56.7 L177.0,58.1 L178.0,59.6 L179.0,61.3 L180.0,63.1 L181.0,65.0 L182.0,67.0 L183.0,69.2 L184.0,71.5 L185.0,73.9 L186.0,76.5 L187.0,79.1 L188.0,81.9 L189.0,84.7 L190.0,87.6 L191.0,90.6 L192.0,93.7 L193.0,96.8 L194.0,100.0 L195.0,103.2 L196.0,106.4 L197.0,109.6 L198.0,112.8 L199.0,116.0 L200.0,119.2 L201.0,122.4 L202.0,125.4 L203.0,128.5 L204.0,131.4 L205.0,134.3 L206.0,137.1 L207.0,139.9 L208.0,142.5 L209.0,145.0 L210.0,147.3 L211.0,149.6 L212.0,151.7 L213.0,153.7 L214.0,155.6 L215.0,157.3 L216.0,158.8 L217.0,160.2 L218.0,161.5 L219.0,162.6 L220.0,163.5 L221.0,164.3 L222.0,164.9 L223.0,165.4 L224.0,165.7 L225.0,165.8 L226.0,165.8 L227.0,165.6 L228.0,165.2 L229.0,164.8 L230.0,164.1 L231.0,163.4 L232.0,162.4 L233.0,161.4 L234.0,160.2 L235.0,158.8 L236.0,157.3 L237.0,155.7 L238.0,154.0 L239.0,152.1 L240.0,150.1 L241.0,148.0 L242.0,145.7 L243.0,143.4 L244.0,141.0 L245.0,138.4 L246.0,135.8 L247.0,133.1 L248.0,130.3 L249.0,127.4 L250.0,124.5 L251.0,121.6 L252.0,118.6 L253.0,115.5 L254.0,112.5 L255.0,109.4 L256.0,106.3 L257.0,103.3 L258.0,100.2 L259.0,97.2 L260.0,94.2 L261.0,91.3 L262.0,88.4 L263.0,85.6 L264.0,82.9 L265.0,80.2 L266.0,77.7 L267.0,75.2 L268.0,72.8 L269.0,70.6 L270.0,68.4 L271.0,66.4 L272.0,64.5 L273.0,62.7 L274.0,61.0 L275.0,59.4 L276.0,57.9 L277.0,56.6 L278.0,55.3 L279.0,54.1 L280.0,53.1 L281.0,52.1 L282.0,51.3 L283.0,50.5 L284.0,49.8 L285.0,49.2 L286.0,48.6 L287.0,48.2 L288.0,47.7 L289.0,47.4 L290.0,47.0 L291.0,46.8 L292.0,46.5 L293.0,46.3 L294.0,46.1 L295.0,46.0 L296.0,45.8 L297.0,45.7 L298.0,45.6 L299.0,45.5 L300.0,45.4 L301.0,45.3 L302.0,45.3 L303.0,45.2 L304.0,45.1 L305.0,45.1 L306.0,45.0 L307.0,44.9 L308.0,44.9 L309.0,44.8 L310.0,44.8 L311.0,44.7 L312.0,44.7 L313.0,44.6 L314.0,44.6 L315.0,44.5 L316.0,44.5 L317.0,44.4 L318.0,44.4 L319.0,44.3 L320.0,44.3 L321.0,44.2 L322.0,44.2 L323.0,44.1 L324.0,44.1 L325.0,44.0 L326.0,44.0 L327.0,43.9 L328.0,43.9 L329.0,43.8 L330.0,43.8 L331.0,43.7 L332.0,43.7 L333.0,43.6 L334.0,43.6 L335.0,43.5 L336.0,43.4 L337.0,43.4 L338.0,43.3 L339.0,43.3 L340.0,43.2 L341.0,43.2 L342.0,43.1" stroke="#7a9a6a"/>
<path d="M84.0,76.0 L85.0,75.4 L86.0,74.9 L87.0,74.3 L88.0,73.7 L89.0,73.2 L90.0,72.6 L91.0,72.1 L92.0,71.5 L93.0,71.0 L94.0,70.5 L95.0,69.9 L96.0,69.4 L97.0,68.9 L98.0,68.3 L99.0,67.8 L100.0,67.3 L101.0,66.8 L102.0,66.2 L103.0,65.7 L104.0,65.2 L105.0,64.7 L106.0,64.2 L107.0,63.7 L108.0,63.2 L109.0,62.7 L110.0,62.3 L111.0,61.8 L112.0,61.3 L113.0,60.8 L114.0,60.4 L115.0,59.9 L116.0,59.4 L117.0,59.0 L118.0,58.5 L119.0,58.1 L120.0,57.6 L121.0,57.2 L122.0,56.8 L123.0,56.3 L124.0,55.9 L125.0,55.5 L126.0,55.1 L127.0,54.7 L128.0,54.3 L129.0,53.9 L130.0,53.5 L131.0,53.1 L132.0,52.7 L133.0,52.3 L134.0,52.0 L135.0,51.6 L136.0,51.2 L137.0,50.9 L138.0,50.5 L139.0,50.2 L140.0,49.9 L141.0,49.6 L142.0,49.3 L143.0,49.0 L144.0,48.7 L145.0,48.4 L146.0,48.1 L147.0,47.9 L148.0,47.6 L149.0,47.4 L150.0,47.2 L151.0,47.0 L152.0,46.9 L153.0,46.8 L154.0,46.8 L155.0,46.8 L156.0,46.9 L157.0,47.0 L158.0,47.1 L159.0,47.2 L160.0,47.3 L161.0,47.5 L162.0,47.8 L163.0,48.0 L164.0,48.4 L165.0,48.7 L166.0,49.2 L167.0,49.7 L168.0,50.3 L169.0,51.0 L170.0,51.7 L171.0,52.6 L172.0,53.6 L173.0,54.7 L174.0,55.9 L175.0,57.3 L176.0,58.8 L177.0,60.4 L178.0,62.2 L179.0,64.1 L180.0,66.1 L181.0,68.3 L182.0,70.6 L183.0,73.1 L184.0,75.7 L185.0,78.5 L186.0,81.3 L187.0,84.3 L188.0,87.4 L189.0,90.6 L190.0,93.9 L191.0,97.3 L192.0,100.7 L193.0,104.2 L194.0,107.8 L195.0,111.4 L196.0,115.0 L197.0,118.6 L198.0,122.2 L199.0,125.8 L200.0,129.4 L201.0,132.9 L202.0,136.4 L203.0,139.8 L204.0,143.2 L205.0,146.5 L206.0,149.7 L207.0,152.7 L208.0,155.7 L209.0,158.5 L210.0,161.3 L211.0,163.9 L212.0,166.3 L213.0,168.6 L214.0,170.8 L215.0,172.8 L216.0,174.6 L217.0,176.3 L218.0,177.8 L219.0,179.1 L220.0,180.3 L221.0,181.2 L222.0,182.1 L223.0,182.7 L224.0,183.1 L225.0,183.4 L226.0,183.5 L227.0,183.4 L228.0,183.2 L229.0,182.8 L230.0,182.2 L231.0,181.5 L232.0,180.6 L233.0,179.5 L234.0,178.3 L235.0,177.0 L236.0,175.5 L237.0,173.8 L238.0,172.0 L239.0,170.1 L240.0,168.0 L241.0,165.8 L242.0,163.5 L243.0,161.0 L244.0,158.4 L245.0,155.7 L246.0,152.9 L247.0,150.0 L248.0,147.0 L249.0,143.9 L250.0,140.8 L251.0,137.6 L252.0,134.3 L253.0,131.0 L254.0,127.6 L255.0,124.2 L256.0,120.8 L257.0,117.3 L258.0,113.9 L259.0,110.5 L260.0,107.1 L261.0,103.8 L262.0,100.4 L263.0,97.2 L264.0,94.0 L265.0,90.9 L266.0,87.8 L267.0,84.9 L268.0,82.0 L269.0,79.3 L270.0,76.7 L271.0,74.1 L272.0,71.8 L273.0,69.5 L274.0,67.3 L275.0,65.3 L276.0,63.4 L277.0,61.7 L278.0,60.0 L279.0,58.5 L280.0,57.1 L281.0,55.7 L282.0,54.5 L283.0,53.4 L284.0,52.4 L285.0,51.4 L286.0,50.6 L287.0,49.9 L288.0,49.2 L289.0,48.6 L290.0,48.1 L291.0,47.7 L292.0,47.3 L293.0,46.9 L294.0,46.6 L295.0,46.3 L296.0,46.1 L297.0,45.9 L298.0,45.7 L299.0,45.5 L300.0,45.4 L301.0,45.2 L302.0,45.1 L303.0,45.0 L304.0,44.9 L305.0,44.8 L306.0,44.7 L307.0,44.6 L308.0,44.5 L309.0,44.5 L310.0,44.4 L311.0,44.3 L312.0,44.2 L313.0,44.2 L314.0,44.1 L315.0,44.0 L316.0,43.9 L317.0,43.9 L318.0,43.8 L319.0,43.7 L320.0,43.6 L321.0,43.6 L322.0,43.5 L323.0,43.4 L324.0,43.4 L325.0,43.3 L326.0,43.2 L327.0,43.1 L328.0,43.1 L329.0,43.0 L330.0,42.9 L331.0,42.9 L332.0,42.8 L333.0,42.7 L334.0,42.6 L335.0,42.6 L336.0,42.5 L337.0,42.4 L338.0,42.3 L339.0,42.3 L340.0,42.2 L341.0,42.1 L342.0,42.1" stroke="#3aa8d8"/>
<path d="M84.0,78.0 L85.0,77.5 L86.0,77.0 L87.0,76.5 L88.0,76.0 L89.0,75.5 L90.0,75.0 L91.0,74.5 L92.0,74.0 L93.0,73.5 L94.0,73.0 L95.0,72.5 L96.0,72.0 L97.0,71.5 L98.0,71.0 L99.0,70.5 L100.0,70.1 L101.0,69.6 L102.0,69.1 L103.0,68.6 L104.0,68.1 L105.0,67.7 L106.0,67.2 L107.0,66.7 L108.0,66.2 L109.0,65.8 L110.0,65.3 L111.0,64.8 L112.0,64.4 L113.0,63.9 L114.0,63.5 L115.0,63.0 L116.0,62.5 L117.0,62.1 L118.0,61.6 L119.0,61.2 L120.0,60.7 L121.0,60.3 L122.0,59.9 L123.0,59.4 L124.0,59.0 L125.0,58.6 L126.0,58.1 L127.0,57.7 L128.0,57.3 L129.0,56.8 L130.0,56.4 L131.0,56.0 L132.0,55.6 L133.0,55.2 L134.0,54.8 L135.0,54.4 L136.0,54.0 L137.0,53.6 L138.0,53.2 L139.0,52.8 L140.0,52.4 L141.0,52.0 L142.0,51.7 L143.0,51.3 L144.0,50.9 L145.0,50.6 L146.0,50.2 L147.0,49.9 L148.0,49.5 L149.0,49.2 L150.0,48.9 L151.0,48.6 L152.0,48.3 L153.0,48.1 L154.0,47.8 L155.0,47.6 L156.0,47.5 L157.0,47.3 L158.0,47.3 L159.0,47.4 L160.0,47.6 L161.0,47.9 L162.0,48.2 L163.0,48.5 L164.0,48.9 L165.0,49.4 L166.0,50.0 L167.0,50.6 L168.0,51.3 L169.0,52.2 L170.0,53.1 L171.0,54.2 L172.0,55.3 L173.0,56.7 L174.0,58.1 L175.0,59.7 L176.0,61.4 L177.0,63.3 L178.0,65.3 L179.0,67.5 L180.0,69.9 L181.0,72.4 L182.0,75.0 L183.0,77.9 L184.0,80.8 L185.0,83.9 L186.0,87.1 L187.0,90.5 L188.0,94.0 L189.0,97.6 L190.0,101.2 L191.0,105.0 L192.0,108.8 L193.0,112.8 L194.0,116.7 L195.0,120.7 L196.0,124.7 L197.0,128.7 L198.0,132.8 L199.0,136.8 L200.0,140.7 L201.0,144.7 L202.0,148.6 L203.0,152.4 L204.0,156.1 L205.0,159.7 L206.0,163.3 L207.0,166.7 L208.0,170.0 L209.0,173.2 L210.0,176.3 L211.0,179.2 L212.0,182.0 L213.0,184.6 L214.0,187.0 L215.0,189.3 L216.0,191.4 L217.0,193.3 L218.0,195.0 L219.0,196.6 L220.0,198.0 L221.0,199.2 L222.0,200.1 L223.0,200.9 L224.0,201.5 L225.0,202.0 L226.0,202.2 L227.0,202.2 L228.0,202.0 L229.0,201.6 L230.0,201.0 L231.0,200.3 L232.0,199.3 L233.0,198.2 L234.0,196.8 L235.0,195.3 L236.0,193.6 L237.0,191.7 L238.0,189.6 L239.0,187.3 L240.0,184.9 L241.0,182.3 L242.0,179.6 L243.0,176.7 L244.0,173.7 L245.0,170.5 L246.0,167.2 L247.0,163.8 L248.0,160.3 L249.0,156.6 L250.0,152.9 L251.0,149.1 L252.0,145.2 L253.0,141.3 L254.0,137.3 L255.0,133.3 L256.0,129.3 L257.0,125.3 L258.0,121.3 L259.0,117.3 L260.0,113.3 L261.0,109.4 L262.0,105.5 L263.0,101.8 L264.0,98.1 L265.0,94.5 L266.0,91.0 L267.0,87.6 L268.0,84.3 L269.0,81.2 L270.0,78.2 L271.0,75.4 L272.0,72.7 L273.0,70.2 L274.0,67.8 L275.0,65.6 L276.0,63.6 L277.0,61.7 L278.0,59.9 L279.0,58.3 L280.0,56.8 L281.0,55.5 L282.0,54.3 L283.0,53.2 L284.0,52.3 L285.0,51.4 L286.0,50.7 L287.0,50.1 L288.0,49.5 L289.0,48.8 L290.0,47.9 L291.0,47.0 L292.0,46.2 L293.0,45.5 L294.0,44.8 L295.0,44.2 L296.0,43.6 L297.0,43.0 L298.0,42.5 L299.0,42.0 L300.0,41.6 L301.0,41.1 L302.0,40.7 L303.0,40.3 L304.0,39.9 L305.0,39.6 L306.0,39.2 L307.0,38.9 L308.0,38.6 L309.0,38.2 L310.0,37.9 L311.0,37.6 L312.0,37.3 L313.0,37.1 L314.0,36.8 L315.0,36.5 L316.0,36.2 L317.0,36.0 L318.0,35.7 L319.0,35.5 L320.0,35.3 L321.0,35.0 L322.0,34.8 L323.0,34.6 L324.0,34.4 L325.0,34.2 L326.0,34.0 L327.0,33.8 L328.0,33.6 L329.0,33.4 L330.0,33.2 L331.0,33.1 L332.0,32.9 L333.0,32.7 L334.0,32.6 L335.0,32.4 L336.0,32.2 L337.0,32.1 L338.0,31.9 L339.0,31.8 L340.0,31.7 L341.0,31.5 L342.0,31.4" stroke="#3a6aa8"/>
<path d="M84.0,51.0 L85.0,50.7 L86.0,50.5 L87.0,50.2 L88.0,50.0 L89.0,49.8 L90.0,49.6 L91.0,49.4 L92.0,49.2 L93.0,49.0 L94.0,48.8 L95.0,48.6 L96.0,48.4 L97.0,48.3 L98.0,48.1 L99.0,48.0 L100.0,47.8 L101.0,47.7 L102.0,47.6 L103.0,47.4 L104.0,47.3 L105.0,47.2 L106.0,47.1 L107.0,46.9 L108.0,46.8 L109.0,46.7 L110.0,46.6 L111.0,46.5 L112.0,46.5 L113.0,46.4 L114.0,46.3 L115.0,46.3 L116.0,46.2 L117.0,46.2 L118.0,46.2 L119.0,46.1 L120.0,46.1 L121.0,46.1 L122.0,46.2 L123.0,46.2 L124.0,46.2 L125.0,46.2 L126.0,46.3 L127.0,46.3 L128.0,46.4 L129.0,46.4 L130.0,46.4 L131.0,46.4 L132.0,46.5 L133.0,46.5 L134.0,46.5 L135.0,46.5 L136.0,46.6 L137.0,46.6 L138.0,46.6 L139.0,46.6 L140.0,46.6 L141.0,46.6 L142.0,46.6 L143.0,46.6 L144.0,46.6 L145.0,46.7 L146.0,46.7 L147.0,46.7 L148.0,46.7 L149.0,46.8 L150.0,46.9 L151.0,46.9 L152.0,47.0 L153.0,47.1 L154.0,47.3 L155.0,47.4 L156.0,47.6 L157.0,47.8 L158.0,48.1 L159.0,48.4 L160.0,48.8 L161.0,49.2 L162.0,49.7 L163.0,50.3 L164.0,51.0 L165.0,51.8 L166.0,52.6 L167.0,53.6 L168.0,54.7 L169.0,55.9 L170.0,57.2 L171.0,58.6 L172.0,60.2 L173.0,62.0 L174.0,63.9 L175.0,65.9 L176.0,68.1 L177.0,70.5 L178.0,73.0 L179.0,75.6 L180.0,78.5 L181.0,81.4 L182.0,84.6 L183.0,87.8 L184.0,91.2 L185.0,94.8 L186.0,98.4 L187.0,102.2 L188.0,106.0 L189.0,110.0 L190.0,114.0 L191.0,118.1 L192.0,122.3 L193.0,126.5 L194.0,130.8 L195.0,135.0 L196.0,139.3 L197.0,143.6 L198.0,147.8 L199.0,152.1 L200.0,156.3 L201.0,160.4 L202.0,164.5 L203.0,168.4 L204.0,172.4 L205.0,176.2 L206.0,179.9 L207.0,183.5 L208.0,186.9 L209.0,190.3 L210.0,193.5 L211.0,196.5 L212.0,199.4 L213.0,202.2 L214.0,204.7 L215.0,207.2 L216.0,209.4 L217.0,211.5 L218.0,213.3 L219.0,215.0 L220.0,216.5 L221.0,217.9 L222.0,219.0 L223.0,219.9 L224.0,220.7 L225.0,221.2 L226.0,221.5 L227.0,221.7 L228.0,221.6 L229.0,221.4 L230.0,220.9 L231.0,220.3 L232.0,219.4 L233.0,218.3 L234.0,217.0 L235.0,215.6 L236.0,213.9 L237.0,212.1 L238.0,210.1 L239.0,208.0 L240.0,205.6 L241.0,203.2 L242.0,200.5 L243.0,197.8 L244.0,194.9 L245.0,191.9 L246.0,188.8 L247.0,185.6 L248.0,182.3 L249.0,178.9 L250.0,175.5 L251.0,172.0 L252.0,168.4 L253.0,164.8 L254.0,161.2 L255.0,157.6 L256.0,153.9 L257.0,150.3 L258.0,146.6 L259.0,143.0 L260.0,139.4 L261.0,135.8 L262.0,132.2 L263.0,128.7 L264.0,125.3 L265.0,121.9 L266.0,118.5 L267.0,115.3 L268.0,112.1 L269.0,108.9 L270.0,105.9 L271.0,102.9 L272.0,100.1 L273.0,97.3 L274.0,94.6 L275.0,91.9 L276.0,89.4 L277.0,87.0 L278.0,84.7 L279.0,82.4 L280.0,80.3 L281.0,78.2 L282.0,76.2 L283.0,74.3 L284.0,72.4 L285.0,70.6 L286.0,68.9 L287.0,67.2 L288.0,65.6 L289.0,64.1 L290.0,62.7 L291.0,61.4 L292.0,60.1 L293.0,58.8 L294.0,57.7 L295.0,56.6 L296.0,55.6 L297.0,54.6 L298.0,53.6 L299.0,52.8 L300.0,51.9 L301.0,51.2 L302.0,50.4 L303.0,49.7 L304.0,49.1 L305.0,48.4 L306.0,47.8 L307.0,47.3 L308.0,46.7 L309.0,46.2 L310.0,45.7 L311.0,45.3 L312.0,44.8 L313.0,44.4 L314.0,44.0 L315.0,43.6 L316.0,43.3 L317.0,42.9 L318.0,42.6 L319.0,42.2 L320.0,41.9 L321.0,41.6 L322.0,41.3 L323.0,41.0 L324.0,40.7 L325.0,40.4 L326.0,40.1 L327.0,39.8 L328.0,39.5 L329.0,39.3 L330.0,39.0 L331.0,38.7 L332.0,38.4 L333.0,38.2 L334.0,37.9 L335.0,37.6 L336.0,37.3 L337.0,37.0 L338.0,36.8 L339.0,36.5 L340.0,36.2 L341.0,35.9 L342.0,35.6" stroke="#111111"/>
<path d="M84.0,67.0 L85.0,66.7 L86.0,66.3 L87.0,66.0 L88.0,65.6 L89.0,65.3 L90.0,65.0 L91.0,64.6 L92.0,64.3 L93.0,64.0 L94.0,63.6 L95.0,63.3 L96.0,63.0 L97.0,62.6 L98.0,62.3 L99.0,62.0 L100.0,61.6 L101.0,61.3 L102.0,61.0 L103.0,60.6 L104.0,60.3 L105.0,60.0 L106.0,59.7 L107.0,59.3 L108.0,59.0 L109.0,58.7 L110.0,58.4 L111.0,58.0 L112.0,57.7 L113.0,57.4 L114.0,57.1 L115.0,56.8 L116.0,56.4 L117.0,56.1 L118.0,55.8 L119.0,55.5 L120.0,55.2 L121.0,54.9 L122.0,54.5 L123.0,54.2 L124.0,53.9 L125.0,53.6 L126.0,53.3 L127.0,53.0 L128.0,52.7 L129.0,52.4 L130.0,52.1 L131.0,51.8 L132.0,51.5 L133.0,51.2 L134.0,50.9 L135.0,50.6 L136.0,50.3 L137.0,50.0 L138.0,49.6 L139.0,49.3 L140.0,49.0 L141.0,48.6 L142.0,48.2 L143.0,47.8 L144.0,47.5 L145.0,47.1 L146.0,46.7 L147.0,46.3 L148.0,46.0 L149.0,45.7 L150.0,45.5 L151.0,45.5 L152.0,45.6 L153.0,45.8 L154.0,46.0 L155.0,46.3 L156.0,46.6 L157.0,47.0 L158.0,47.4 L159.0,47.8 L160.0,48.3 L161.0,48.9 L162.0,49.4 L163.0,50.1 L164.0,50.8 L165.0,51.6 L166.0,52.5 L167.0,53.5 L168.0,54.6 L169.0,55.8 L170.0,57.2 L171.0,58.7 L172.0,60.3 L173.0,62.1 L174.0,64.1 L175.0,66.2 L176.0,68.5 L177.0,71.0 L178.0,73.6 L179.0,76.4 L180.0,79.4 L181.0,82.6 L182.0,85.9 L183.0,89.3 L184.0,93.0 L185.0,96.8 L186.0,100.7 L187.0,104.7 L188.0,108.9 L189.0,113.2 L190.0,117.6 L191.0,122.1 L192.0,126.6 L193.0,131.2 L194.0,135.9 L195.0,140.6 L196.0,145.3 L197.0,150.0 L198.0,154.7 L199.0,159.4 L200.0,164.0 L201.0,168.6 L202.0,173.1 L203.0,177.6 L204.0,182.0 L205.0,186.3 L206.0,190.4 L207.0,194.5 L208.0,198.4 L209.0,202.2 L210.0,205.8 L211.0,209.3 L212.0,212.6 L213.0,215.8 L214.0,218.7 L215.0,221.5 L216.0,224.1 L217.0,226.6 L218.0,228.8 L219.0,230.8 L220.0,232.6 L221.0,234.2 L222.0,235.6 L223.0,236.8 L224.0,237.8 L225.0,238.5 L226.0,239.1 L227.0,239.4 L228.0,239.5 L229.0,239.4 L230.0,239.1 L231.0,238.6 L232.0,237.9 L233.0,237.0 L234.0,235.9 L235.0,234.7 L236.0,233.2 L237.0,231.5 L238.0,229.7 L239.0,227.6 L240.0,225.4 L241.0,223.0 L242.0,220.5 L243.0,217.7 L244.0,214.8 L245.0,211.8 L246.0,208.6 L247.0,205.2 L248.0,201.7 L249.0,198.1 L250.0,194.3 L251.0,190.4 L252.0,186.4 L253.0,182.4 L254.0,178.2 L255.0,173.9 L256.0,169.6 L257.0,165.2 L258.0,160.8 L259.0,156.3 L260.0,151.8 L261.0,147.3 L262.0,142.8 L263.0,138.3 L264.0,133.9 L265.0,129.4 L266.0,125.0 L267.0,120.7 L268.0,116.5 L269.0,112.3 L270.0,108.2 L271.0,104.2 L272.0,100.4 L273.0,96.6 L274.0,93.0 L275.0,89.5 L276.0,86.2 L277.0,83.0 L278.0,80.0 L279.0,77.1 L280.0,74.4 L281.0,71.8 L282.0,69.4 L283.0,67.1 L284.0,65.0 L285.0,63.1 L286.0,61.3 L287.0,59.6 L288.0,58.1 L289.0,56.7 L290.0,55.4 L291.0,54.3 L292.0,53.0 L293.0,51.8 L294.0,50.8 L295.0,49.8 L296.0,48.9 L297.0,48.1 L298.0,47.4 L299.0,46.7 L300.0,46.1 L301.0,45.6 L302.0,45.1 L303.0,44.7 L304.0,44.3 L305.0,43.9 L306.0,43.6 L307.0,43.2 L308.0,42.9 L309.0,42.7 L310.0,42.4 L311.0,42.2 L312.0,42.0 L313.0,41.7 L314.0,41.5 L315.0,41.3 L316.0,41.1 L317.0,41.0 L318.0,40.8 L319.0,40.6 L320.0,40.4 L321.0,40.3 L322.0,40.1 L323.0,39.9 L324.0,39.8 L325.0,39.6 L326.0,39.5 L327.0,39.3 L328.0,39.2 L329.0,39.0 L330.0,38.9 L331.0,38.8 L332.0,38.6 L333.0,38.5 L334.0,38.4 L335.0,38.2 L336.0,38.1 L337.0,38.0 L338.0,37.9 L339.0,37.7 L340.0,37.6 L341.0,37.5 L342.0,37.4" stroke="#e0201e"/>
<path d="M127.0,58.6 L128.0,58.4 L129.0,58.2 L130.0,58.0 L131.0,57.8 L132.0,57.6 L133.0,57.4 L134.0,57.2 L135.0,56.9 L136.0,56.7 L137.0,56.5 L138.0,56.3 L139.0,56.1 L140.0,55.9 L141.0,55.7 L142.0,55.5 L143.0,55.3 L144.0,55.1 L145.0,54.9 L146.0,54.7 L147.0,54.5 L148.0,54.3 L149.0,54.0 L150.0,53.8 L151.0,53.6 L152.0,53.4 L153.0,53.2 L154.0,53.0 L155.0,52.8 L156.0,52.6 L157.0,52.4 L158.0,52.2 L159.0,52.0 L160.0,51.8 L161.0,51.6 L162.0,51.4 L163.0,51.2 L164.0,51.0 L165.0,50.8 L166.0,50.6 L167.0,50.4 L168.0,50.2 L169.0,50.1 L170.0,49.9 L171.0,49.7 L172.0,49.6 L173.0,49.4 L174.0,49.3 L175.0,49.1 L176.0,49.0 L177.0,48.9 L178.0,48.8 L179.0,48.7 L180.0,48.7 L181.0,48.6 L182.0,48.6 L183.0,48.5 L184.0,48.5 L185.0,48.5 L186.0,48.7 L187.0,48.9 L188.0,49.1 L189.0,49.4 L190.0,49.6 L191.0,49.9 L192.0,50.1 L193.0,50.4 L194.0,50.7 L195.0,50.9 L196.0,51.2 L197.0,51.5 L198.0,51.7 L199.0,52.0 L200.0,52.3 L201.0,52.5 L202.0,52.8 L203.0,53.0 L204.0,53.2 L205.0,53.5 L206.0,53.7 L207.0,53.9 L208.0,54.1 L209.0,54.2 L210.0,54.4 L211.0,54.5 L212.0,54.7 L213.0,54.8 L214.0,54.9 L215.0,55.0 L216.0,55.1 L217.0,55.1 L218.0,55.2 L219.0,55.2 L220.0,55.2 L221.0,55.2 L222.0,55.2 L223.0,55.1 L224.0,55.1 L225.0,55.0 L226.0,54.9 L227.0,54.8 L228.0,54.7 L229.0,54.6 L230.0,54.4 L231.0,54.3 L232.0,54.1 L233.0,53.9 L234.0,53.7 L235.0,53.5 L236.0,53.3 L237.0,53.1 L238.0,52.9 L239.0,52.6 L240.0,52.4 L241.0,52.1 L242.0,51.8 L243.0,51.6 L244.0,51.3 L245.0,51.0 L246.0,50.8 L247.0,50.5 L248.0,50.2 L249.0,50.0 L250.0,49.7 L251.0,49.5 L252.0,49.2 L253.0,49.0 L254.0,48.8 L255.0,48.6 L256.0,48.4 L257.0,48.2 L258.0,48.0 L259.0,47.8 L260.0,47.7 L261.0,47.5 L262.0,47.4 L263.0,47.3 L264.0,47.2 L265.0,47.1 L266.0,47.0 L267.0,47.0 L268.0,46.9 L269.0,46.8 L270.0,46.8 L271.0,46.8 L272.0,46.7 L273.0,46.7 L274.0,46.7 L275.0,46.7 L276.0,46.6 L277.0,46.6 L278.0,46.6 L279.0,46.6 L280.0,46.6 L281.0,46.6 L282.0,46.6 L283.0,46.6 L284.0,46.6 L285.0,46.6 L286.0,46.6 L287.0,46.6 L288.0,46.6 L289.0,46.6 L290.0,46.6 L291.0,46.6 L292.0,46.6 L293.0,46.6 L294.0,46.6 L295.0,46.6 L296.0,46.6 L297.0,46.6 L298.0,47.2 L299.0,47.8 L300.0,48.3 L301.0,48.9 L302.0,49.5 L303.0,50.1 L304.0,50.6 L305.0,51.2 L306.0,51.8 L307.0,52.4 L308.0,52.9 L309.0,53.5 L310.0,54.1 L311.0,54.7 L312.0,55.2 L313.0,55.8 L314.0,56.4 L315.0,57.0 L316.0,57.6 L317.0,58.1 L318.0,58.7 L319.0,59.3 L320.0,59.9 L321.0,60.4 L322.0,61.0 L323.0,61.6 L324.0,62.2 L325.0,62.7 L326.0,63.3 L327.0,63.9 L328.0,64.5 L329.0,65.0 L330.0,65.6 L331.0,66.2 L332.0,66.8 L333.0,67.4 L334.0,67.9 L335.0,68.5 L336.0,69.1 L337.0,69.7 L338.0,70.2 L339.0,70.8 L340.0,71.4 L341.0,72.0 L342.0,72.5" stroke="#1c2a80"/>
</g>
<rect x="53.5" y="4.5" width="325.0" height="261.5" fill="none" stroke="#1a1a1a" stroke-width="1.4"/>
<path d="M48.3,4.60H53.5 M50.9,26.40H53.5 M48.3,48.20H53.5 M50.9,70.00H53.5 M48.3,91.80H53.5 M50.9,113.60H53.5 M48.3,135.40H53.5 M50.9,157.20H53.5 M48.3,179.00H53.5 M50.9,200.80H53.5 M48.3,222.60H53.5 M50.9,244.40H53.5 M48.3,266.20H53.5 M54.01,266.0V268.7 M73.10,266.0V271.5 M92.19,266.0V268.7 M111.27,266.0V271.5 M130.36,266.0V268.7 M149.45,266.0V271.5 M168.54,266.0V268.7 M187.62,266.0V271.5 M206.71,266.0V268.7 M225.80,266.0V271.5 M244.89,266.0V268.7 M263.98,266.0V271.5 M283.06,266.0V268.7 M302.15,266.0V271.5 M321.24,266.0V268.7 M340.32,266.0V271.5 M359.41,266.0V268.7 M378.50,266.0V271.5" stroke="#1a1a1a" stroke-width="1.3" fill="none"/>
<g font-family="Liberation Sans, sans-serif" font-size="11" fill="#222" stroke="#222" stroke-width="0.12">
<text x="44.9" y="8.10" text-anchor="end">50</text>
<text x="44.9" y="51.70" text-anchor="end">0</text>
<text x="44.9" y="95.30" text-anchor="end">-50</text>
<text x="44.9" y="138.90" text-anchor="end">-100</text>
<text x="44.9" y="182.50" text-anchor="end">-150</text>
<text x="44.9" y="226.10" text-anchor="end">-200</text>
<text x="44.9" y="269.70" text-anchor="end">-250</text>
<text x="73.10" y="283.5" text-anchor="middle">-0.8</text>
<text x="111.27" y="283.5" text-anchor="middle">-0.9</text>
<text x="149.45" y="283.5" text-anchor="middle">-1.0</text>
<text x="187.62" y="283.5" text-anchor="middle">-1.1</text>
<text x="225.80" y="283.5" text-anchor="middle">-1.2</text>
<text x="263.98" y="283.5" text-anchor="middle">-1.3</text>
<text x="302.15" y="283.5" text-anchor="middle">-1.4</text>
<text x="340.32" y="283.5" text-anchor="middle">-1.5</text>
<text x="378.50" y="283.5" text-anchor="middle">-1.6</text>
</g>
<g font-family="Liberation Serif, serif" fill="#111">
<text x="67.3" y="33.8" font-size="10" font-weight="bold">a</text>
<text x="298.6" y="94.6" font-size="13.6">100nM</text>
<text x="301.9" y="178.7" font-size="13.6">5mM</text>
<text transform="translate(9.9,125) rotate(-90)" font-size="13" text-anchor="middle">I(µA)</text>
<text x="188.2" y="301.2" font-size="9.7" font-weight="bold" textLength="66" lengthAdjust="spacingAndGlyphs">E (V vs. Ag/AgCl)</text>
</g>
<path d="M316.7,96.3V153" stroke="#e8141a" stroke-width="2.4"/>
<path d="M313.3,151.9H320.1L316.7,163.7Z" fill="#e8141a"/>
<rect x="418.2" y="6.5" width="216.40000000000003" height="130.8" fill="none" stroke="#606060" stroke-width="0.95"/>
<path d="M415.59999999999997,136.70H418.2 M416.7,128.55H418.2 M415.59999999999997,120.40H418.2 M416.7,112.25H418.2 M415.59999999999997,104.10H418.2 M416.7,95.95H418.2 M415.59999999999997,87.80H418.2 M416.7,79.65H418.2 M415.59999999999997,71.50H418.2 M416.7,63.35H418.2 M415.59999999999997,55.20H418.2 M416.7,47.05H418.2 M415.59999999999997,38.90H418.2 M416.7,30.75H418.2 M415.59999999999997,22.60H418.2 M416.7,14.45H418.2 M415.59999999999997,6.30H418.2 M421.30,137.3V139.9 M456.87,137.3V138.8 M492.44,137.3V139.9 M528.01,137.3V138.8 M563.58,137.3V139.9 M599.15,137.3V138.8 M634.72,137.3V139.9" stroke="#333" stroke-width="0.8" fill="none"/>
<g font-family="Liberation Sans, sans-serif" font-size="6.5" fill="#333">
<text x="411.6" y="139.00" text-anchor="end">-1</text>
<text x="411.6" y="122.70" text-anchor="end">0</text>
<text x="411.6" y="106.40" text-anchor="end">1</text>
<text x="411.6" y="90.10" text-anchor="end">2</text>
<text x="411.6" y="73.80" text-anchor="end">3</text>
<text x="411.6" y="57.50" text-anchor="end">4</text>
<text x="411.6" y="41.20" text-anchor="end">5</text>
<text x="411.6" y="24.90" text-anchor="end">6</text>
<text x="411.6" y="8.60" text-anchor="end">7</text>
<text transform="translate(421.30,146) scale(1.19,1)" font-size="6.1" text-anchor="middle">0</text>
<text transform="translate(492.44,146) scale(1.19,1)" font-size="6.1" text-anchor="middle">2000</text>
<text transform="translate(563.58,146) scale(1.19,1)" font-size="6.1" text-anchor="middle">4000</text>
<text transform="translate(634.72,146) scale(1.19,1)" font-size="6.1" text-anchor="middle">6000</text>
</g>
<path d="M421.3,119.6 L421.3,119.3 L421.3,118.9 L421.3,118.4 L421.4,117.6 L421.4,116.2 L421.6,114.1 L421.7,112.1 L421.9,110.1 L422.0,107.6 L422.2,105.0 L422.4,102.1 L422.7,97.3 L423.1,92.2 L424.9,86.2 L428.4,83.7 L439.1,78.8 L449.8,74.8 L456.9,72.3 L492.4,60.9 L528.0,47.9 L563.6,37.3 L599.1,25.0" stroke="#e03030" stroke-width="0.8" fill="none"/>
<rect x="420.30" y="118.59" width="2.0" height="2.0" fill="#d81e2a"/>
<rect x="420.31" y="118.26" width="2.0" height="2.0" fill="#d81e2a"/>
<rect x="420.32" y="117.93" width="2.0" height="2.0" fill="#d81e2a"/>
<rect x="420.34" y="117.44" width="2.0" height="2.0" fill="#d81e2a"/>
<rect x="420.37" y="116.63" width="2.0" height="2.0" fill="#d81e2a"/>
<rect x="420.44" y="115.23" width="2.0" height="2.0" fill="#d81e2a"/>
<rect x="420.58" y="113.08" width="2.0" height="2.0" fill="#d81e2a"/>
<rect x="420.73" y="111.09" width="2.0" height="2.0" fill="#d81e2a"/>
<rect x="420.87" y="109.13" width="2.0" height="2.0" fill="#d81e2a"/>
<rect x="421.01" y="106.60" width="2.0" height="2.0" fill="#d81e2a"/>
<rect x="421.19" y="103.96" width="2.0" height="2.0" fill="#d81e2a"/>
<rect x="421.37" y="101.14" width="2.0" height="2.0" fill="#d81e2a"/>
<rect x="421.72" y="96.25" width="2.0" height="2.0" fill="#d81e2a"/>
<rect x="422.08" y="91.20" width="2.0" height="2.0" fill="#d81e2a"/>
<rect x="423.86" y="85.17" width="2.0" height="2.0" fill="#d81e2a"/>
<rect x="427.41" y="82.72" width="2.0" height="2.0" fill="#d81e2a"/>
<rect x="438.09" y="77.84" width="2.0" height="2.0" fill="#d81e2a"/>
<rect x="448.76" y="73.76" width="2.0" height="2.0" fill="#d81e2a"/>
<rect x="455.87" y="71.31" width="2.0" height="2.0" fill="#d81e2a"/>
<rect x="491.44" y="59.91" width="2.0" height="2.0" fill="#d81e2a"/>
<rect x="527.01" y="46.86" width="2.0" height="2.0" fill="#d81e2a"/>
<rect x="562.58" y="36.27" width="2.0" height="2.0" fill="#d81e2a"/>
<rect x="598.15" y="24.05" width="2.0" height="2.0" fill="#d81e2a"/>
<g font-family="Liberation Serif, serif" fill="#111">
<text x="430" y="30.3" font-size="8" font-weight="bold">b</text>
<text transform="translate(526.4,156.4) scale(1.36,1)" font-size="6.7" text-anchor="middle">C(µM)</text>
</g>
<text transform="translate(396.2,72.6) rotate(-90) scale(1,0.8)" font-family="Liberation Sans, sans-serif" font-size="8.6" fill="#111" text-anchor="middle">I(mA.cm<tspan dy="-2.9" font-size="5.6">-2</tspan><tspan dy="2.9">)</tspan></text>
<rect x="417.7" y="169.6" width="108.69999999999999" height="102.70000000000002" fill="none" stroke="#7a7a7a" stroke-width="0.95"/>
<path d="M415.5,266.60H417.7 M416.5,261.52H417.7 M415.5,256.44H417.7 M416.5,251.36H417.7 M415.5,246.28H417.7 M416.5,241.20H417.7 M415.5,236.12H417.7 M416.5,231.04H417.7 M415.5,225.96H417.7 M416.5,220.88H417.7 M415.5,215.80H417.7 M416.5,210.72H417.7 M415.5,205.64H417.7 M416.5,200.56H417.7 M415.5,195.48H417.7 M416.5,190.40H417.7 M415.5,185.32H417.7 M416.5,180.24H417.7 M415.5,175.16H417.7 M416.5,170.08H417.7 M427.10,272.3V274.5 M436.12,272.3V273.5 M445.14,272.3V274.5 M454.16,272.3V273.5 M463.18,272.3V274.5 M472.20,272.3V273.5 M481.22,272.3V274.5 M490.24,272.3V273.5 M499.26,272.3V274.5 M508.28,272.3V273.5 M517.30,272.3V274.5" stroke="#444" stroke-width="0.8" fill="none"/>
<g font-family="Liberation Sans, sans-serif" font-size="6.5" fill="#333">
<text x="415.2" y="269.30" text-anchor="end">0.0</text>
<text x="415.2" y="259.14" text-anchor="end">0.2</text>
<text x="415.2" y="248.98" text-anchor="end">0.4</text>
<text x="415.2" y="238.82" text-anchor="end">0.6</text>
<text x="415.2" y="228.66" text-anchor="end">0.8</text>
<text x="415.2" y="218.50" text-anchor="end">1.0</text>
<text x="415.2" y="208.34" text-anchor="end">1.2</text>
<text x="415.2" y="198.18" text-anchor="end">1.4</text>
<text x="415.2" y="188.02" text-anchor="end">1.6</text>
<text x="415.2" y="177.86" text-anchor="end">1.8</text>
<text x="427.10" y="281.3" text-anchor="middle">0</text>
<text x="445.14" y="281.3" text-anchor="middle">10</text>
<text x="463.18" y="281.3" text-anchor="middle">20</text>
<text x="481.22" y="281.3" text-anchor="middle">30</text>
<text x="499.26" y="281.3" text-anchor="middle">40</text>
<text x="517.30" y="281.3" text-anchor="middle">50</text>
</g>
<path d="M427.10,261.42L517.30,177.60" stroke="#d02a2a" stroke-width="1.35"/>
<circle cx="427.28" cy="264.06" r="1.25" fill="#2a0808"/>
<circle cx="427.46" cy="263.04" r="1.25" fill="#2a0808"/>
<circle cx="428.00" cy="262.03" r="1.25" fill="#2a0808"/>
<circle cx="428.90" cy="260.50" r="1.25" fill="#2a0808"/>
<circle cx="430.71" cy="257.96" r="1.25" fill="#2a0808"/>
<circle cx="434.32" cy="253.60" r="1.25" fill="#2a0808"/>
<circle cx="441.53" cy="246.89" r="1.25" fill="#2a0808"/>
<circle cx="448.75" cy="240.69" r="1.25" fill="#2a0808"/>
<circle cx="455.96" cy="234.60" r="1.25" fill="#2a0808"/>
<circle cx="463.18" cy="226.72" r="1.25" fill="#2a0808"/>
<circle cx="472.20" cy="218.49" r="1.25" fill="#2a0808"/>
<circle cx="481.22" cy="209.70" r="1.25" fill="#2a0808"/>
<circle cx="499.26" cy="194.46" r="1.25" fill="#2a0808"/>
<circle cx="517.30" cy="178.72" r="1.25" fill="#2a0808"/>
<g font-family="Liberation Serif, serif" fill="#111">
<text x="428.5" y="192.1" font-size="10.5" font-weight="bold">c</text>
<text x="471.7" y="291.8" font-size="7.5" text-anchor="middle">C(µM)</text>
<text x="441.2" y="195.5" font-size="9.4" textLength="56" lengthAdjust="spacingAndGlyphs">y = 0.033x + 0.102</text>
<text x="441.2" y="205.6" font-size="9.4" textLength="31.5" lengthAdjust="spacingAndGlyphs">R² = 0.998</text>
</g>
<text transform="translate(402.5,218.8) rotate(-90) scale(1,0.9)" font-family="Liberation Serif, serif" font-size="8.5" fill="#222" text-anchor="middle">I(mA.cm<tspan dy="-2.8" font-size="5.4">-2</tspan><tspan dy="2.8">)</tspan></text>
<rect x="549.5" y="169.6" width="107.60000000000002" height="101.6" fill="none" stroke="#606060" stroke-width="1.0"/>
<path d="M548.3,271.10H549.5 M547.3,265.50H549.5 M548.3,259.90H549.5 M547.3,254.30H549.5 M548.3,248.70H549.5 M547.3,243.10H549.5 M548.3,237.50H549.5 M547.3,231.90H549.5 M548.3,226.30H549.5 M547.3,220.70H549.5 M548.3,215.10H549.5 M547.3,209.50H549.5 M548.3,203.90H549.5 M547.3,198.30H549.5 M548.3,192.70H549.5 M547.3,187.10H549.5 M548.3,181.50H549.5 M547.3,175.90H549.5 M548.3,170.30H549.5 M558.70,271.2V273.4 M567.66,271.2V272.4 M576.62,271.2V273.4 M585.58,271.2V272.4 M594.54,271.2V273.4 M603.50,271.2V272.4 M612.46,271.2V273.4 M621.42,271.2V272.4 M630.38,271.2V273.4 M639.34,271.2V272.4 M648.30,271.2V273.4" stroke="#444" stroke-width="0.8" fill="none"/>
<g font-family="Liberation Sans, sans-serif" font-size="6.5" fill="#333">
<text x="547" y="267.80" text-anchor="end">2.0</text>
<text x="547" y="256.60" text-anchor="end">2.5</text>
<text x="547" y="245.40" text-anchor="end">3.0</text>
<text x="547" y="234.20" text-anchor="end">3.5</text>
<text x="547" y="223.00" text-anchor="end">4.0</text>
<text x="547" y="211.80" text-anchor="end">4.5</text>
<text x="547" y="200.60" text-anchor="end">5.0</text>
<text x="547" y="189.40" text-anchor="end">5.5</text>
<text x="547" y="178.20" text-anchor="end">6.0</text>
<text x="558.70" y="279.5" text-anchor="middle">0</text>
<text x="576.62" y="279.5" text-anchor="middle">1000</text>
<text x="594.54" y="279.5" text-anchor="middle">2000</text>
<text x="612.46" y="279.5" text-anchor="middle">3000</text>
<text x="630.38" y="279.5" text-anchor="middle">4000</text>
<text x="648.30" y="279.5" text-anchor="middle">5000</text>
</g>
<path d="M559.60,261.68L648.30,178.52" stroke="#d02a2a" stroke-width="1.35"/>
<circle cx="560.49" cy="263.26" r="1.25" fill="#2a0808"/>
<circle cx="562.28" cy="259.90" r="1.25" fill="#2a0808"/>
<circle cx="567.66" cy="253.18" r="1.25" fill="#2a0808"/>
<circle cx="573.04" cy="247.58" r="1.25" fill="#2a0808"/>
<circle cx="576.62" cy="244.22" r="1.25" fill="#2a0808"/>
<circle cx="594.54" cy="228.54" r="1.25" fill="#2a0808"/>
<circle cx="612.46" cy="210.62" r="1.25" fill="#2a0808"/>
<circle cx="630.38" cy="196.06" r="1.25" fill="#2a0808"/>
<circle cx="648.30" cy="179.26" r="1.25" fill="#2a0808"/>
<g font-family="Liberation Serif, serif" fill="#111">
<text x="556.3" y="186.6" font-size="8" font-weight="bold">d</text>
<text x="603" y="290.8" font-size="7.5" text-anchor="middle">C(µM)</text>
<text x="566.1" y="193.4" font-size="9.4" textLength="63.8" lengthAdjust="spacingAndGlyphs">y = 0.00075x + 2.133</text>
<text x="566.1" y="203.8" font-size="9.4" textLength="31.5" lengthAdjust="spacingAndGlyphs">R² = 0.998</text>
</g>
<text transform="translate(536.7,220.5) rotate(-90)" font-family="Liberation Sans, sans-serif" font-size="8" fill="#222" text-anchor="middle">I(mA.cm<tspan dy="-2.7" font-size="5.2">-2</tspan><tspan dy="2.7">)</tspan></text>
</svg>
</body></html>
